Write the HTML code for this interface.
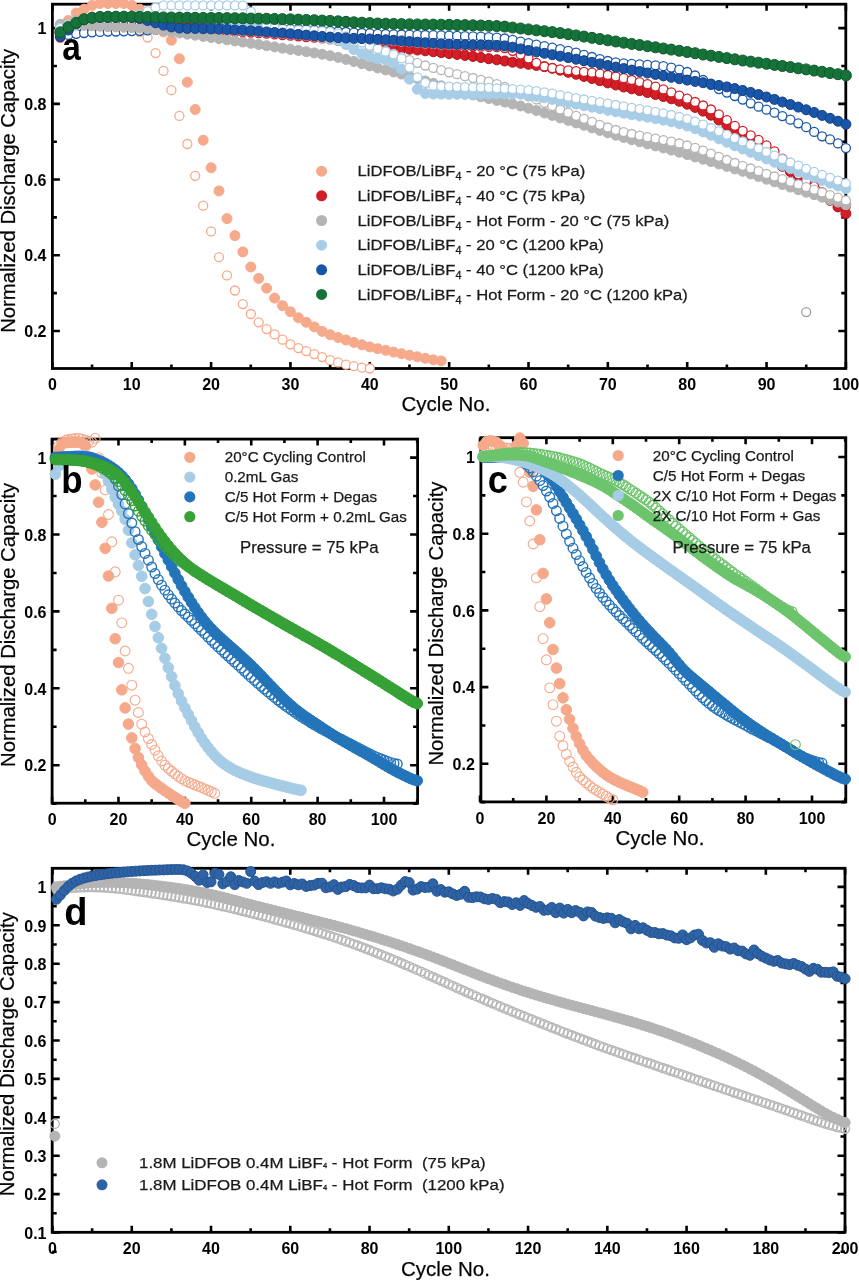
<!DOCTYPE html>
<html><head><meta charset="utf-8"><style>
html,body{margin:0;padding:0;background:#fff;}
svg{display:block;filter:blur(0.4px);}
text{font-family:"Liberation Sans", sans-serif;fill:#000;}
.ax,.ay,.lg,.lg2,.lg3,.lg4{stroke:#1a1a1a;stroke-width:0.25px;}
.tb{font-weight:bold;font-size:16px;}
.ax{font-size:20.5px;}
.ay{font-size:20.3px;}
.pl{font-weight:bold;font-size:38px;}
.lg{font-size:15.4px;fill:#1a1a1a;white-space:pre;}
.lg2{font-size:15.2px;fill:#1a1a1a;}
.lg3{font-size:16.8px;fill:#1a1a1a;}
.lg4{font-size:15.5px;fill:#1a1a1a;white-space:pre;}
.sub{font-size:10px;}
.sub4{font-size:7px;}
</style></head>
<body><svg width="859" height="1280" viewBox="0 0 859 1280">
<rect width="859" height="1280" fill="#fff"/>
<path d="M52.40 368.50V362.00M52.40 4.20V10.70M131.75 368.50V362.00M131.75 4.20V10.70M211.10 368.50V362.00M211.10 4.20V10.70M290.45 368.50V362.00M290.45 4.20V10.70M369.80 368.50V362.00M369.80 4.20V10.70M449.15 368.50V362.00M449.15 4.20V10.70M528.50 368.50V362.00M528.50 4.20V10.70M607.85 368.50V362.00M607.85 4.20V10.70M687.20 368.50V362.00M687.20 4.20V10.70M766.55 368.50V362.00M766.55 4.20V10.70M845.90 368.50V362.00M845.90 4.20V10.70M92.07 368.50V364.50M92.07 4.20V8.20M171.42 368.50V364.50M171.42 4.20V8.20M250.78 368.50V364.50M250.78 4.20V8.20M330.12 368.50V364.50M330.12 4.20V8.20M409.47 368.50V364.50M409.47 4.20V8.20M488.82 368.50V364.50M488.82 4.20V8.20M568.17 368.50V364.50M568.17 4.20V8.20M647.52 368.50V364.50M647.52 4.20V8.20M726.88 368.50V364.50M726.88 4.20V8.20M806.22 368.50V364.50M806.22 4.20V8.20M52.40 331.02H59.90M845.80 331.02H838.30M52.40 255.29H59.90M845.80 255.29H838.30M52.40 179.56H59.90M845.80 179.56H838.30M52.40 103.83H59.90M845.80 103.83H838.30M52.40 28.10H59.90M845.80 28.10H838.30M52.40 293.15H56.90M845.80 293.15H841.30M52.40 217.42H56.90M845.80 217.42H841.30M52.40 141.70H56.90M845.80 141.70H841.30M52.40 65.96H56.90M845.80 65.96H841.30" stroke="#000" stroke-width="2.6" fill="none"/>
<rect x="52.40" y="4.20" width="793.40" height="364.30" fill="none" stroke="#000" stroke-width="2.8"/>
<text x="52.40" y="390.30" text-anchor="middle" class="tb">0</text>
<text x="131.75" y="390.30" text-anchor="middle" class="tb">10</text>
<text x="211.10" y="390.30" text-anchor="middle" class="tb">20</text>
<text x="290.45" y="390.30" text-anchor="middle" class="tb">30</text>
<text x="369.80" y="390.30" text-anchor="middle" class="tb">40</text>
<text x="449.15" y="390.30" text-anchor="middle" class="tb">50</text>
<text x="528.50" y="390.30" text-anchor="middle" class="tb">60</text>
<text x="607.85" y="390.30" text-anchor="middle" class="tb">70</text>
<text x="687.20" y="390.30" text-anchor="middle" class="tb">80</text>
<text x="766.55" y="390.30" text-anchor="middle" class="tb">90</text>
<text x="845.90" y="390.30" text-anchor="middle" class="tb">100</text>
<text x="46.50" y="337.22" text-anchor="end" class="tb">0.2</text>
<text x="46.50" y="261.49" text-anchor="end" class="tb">0.4</text>
<text x="46.50" y="185.76" text-anchor="end" class="tb">0.6</text>
<text x="46.50" y="110.03" text-anchor="end" class="tb">0.8</text>
<text x="46.50" y="34.30" text-anchor="end" class="tb">1</text>
<g fill="#F7A98B" stroke="#F7A98B" stroke-width="1.0"><circle cx="60.3" cy="28.1" r="5.0"/><circle cx="68.3" cy="20.5" r="5.0"/><circle cx="76.2" cy="13.0" r="5.0"/><circle cx="84.1" cy="9.2" r="5.0"/><circle cx="92.1" cy="5.4" r="5.0"/><circle cx="100.0" cy="3.5" r="5.0"/><circle cx="107.9" cy="3.5" r="5.0"/><circle cx="115.9" cy="3.5" r="5.0"/><circle cx="123.8" cy="3.5" r="5.0"/><circle cx="131.8" cy="5.4" r="5.0"/><circle cx="139.7" cy="9.2" r="5.0"/><circle cx="147.6" cy="16.7" r="5.0"/><circle cx="155.6" cy="24.3" r="5.0"/><circle cx="163.5" cy="31.9" r="5.0"/><circle cx="171.4" cy="40.2" r="5.0"/><circle cx="179.4" cy="58.8" r="5.0"/><circle cx="187.3" cy="82.2" r="5.0"/><circle cx="195.2" cy="109.5" r="5.0"/><circle cx="203.2" cy="140.2" r="5.0"/><circle cx="211.1" cy="167.8" r="5.0"/><circle cx="219.0" cy="190.9" r="5.0"/><circle cx="227.0" cy="218.6" r="5.0"/><circle cx="234.9" cy="235.6" r="5.0"/><circle cx="242.8" cy="251.9" r="5.0"/><circle cx="250.8" cy="267.0" r="5.0"/><circle cx="258.7" cy="278.4" r="5.0"/><circle cx="266.6" cy="288.2" r="5.0"/><circle cx="274.6" cy="298.1" r="5.0"/><circle cx="282.5" cy="305.7" r="5.0"/><circle cx="290.4" cy="311.7" r="5.0"/><circle cx="298.4" cy="317.8" r="5.0"/><circle cx="306.3" cy="322.3" r="5.0"/><circle cx="314.3" cy="326.9" r="5.0"/><circle cx="322.2" cy="331.4" r="5.0"/><circle cx="330.1" cy="334.7" r="5.0"/><circle cx="338.1" cy="337.5" r="5.0"/><circle cx="346.0" cy="340.0" r="5.0"/><circle cx="353.9" cy="342.4" r="5.0"/><circle cx="361.9" cy="344.8" r="5.0"/><circle cx="369.8" cy="346.9" r="5.0"/><circle cx="377.7" cy="348.7" r="5.0"/><circle cx="385.7" cy="350.3" r="5.0"/><circle cx="393.6" cy="352.1" r="5.0"/><circle cx="401.5" cy="353.7" r="5.0"/><circle cx="409.5" cy="355.3" r="5.0"/><circle cx="417.4" cy="356.8" r="5.0"/><circle cx="425.3" cy="358.3" r="5.0"/><circle cx="433.3" cy="359.8" r="5.0"/><circle cx="441.2" cy="360.9" r="5.0"/></g>
<g fill="#fff" stroke="#F7A98B" stroke-width="1.3"><circle cx="60.3" cy="28.1" r="4.5"/><circle cx="68.3" cy="23.8" r="4.5"/><circle cx="76.2" cy="20.5" r="4.5"/><circle cx="84.1" cy="18.0" r="4.5"/><circle cx="92.1" cy="16.7" r="4.5"/><circle cx="100.0" cy="16.7" r="4.5"/><circle cx="107.9" cy="16.7" r="4.5"/><circle cx="115.9" cy="16.7" r="4.5"/><circle cx="123.8" cy="16.7" r="4.5"/><circle cx="131.8" cy="22.4" r="4.5"/><circle cx="139.7" cy="31.9" r="4.5"/><circle cx="147.6" cy="37.6" r="4.5"/><circle cx="155.6" cy="53.1" r="4.5"/><circle cx="163.5" cy="70.9" r="4.5"/><circle cx="171.4" cy="90.2" r="4.5"/><circle cx="179.4" cy="115.9" r="4.5"/><circle cx="187.3" cy="144.0" r="4.5"/><circle cx="195.2" cy="175.8" r="4.5"/><circle cx="203.2" cy="205.7" r="4.5"/><circle cx="211.1" cy="231.4" r="4.5"/><circle cx="219.0" cy="257.2" r="4.5"/><circle cx="227.0" cy="275.4" r="4.5"/><circle cx="234.9" cy="290.5" r="4.5"/><circle cx="242.8" cy="304.1" r="4.5"/><circle cx="250.8" cy="314.0" r="4.5"/><circle cx="258.7" cy="322.3" r="4.5"/><circle cx="266.6" cy="329.1" r="4.5"/><circle cx="274.6" cy="334.4" r="4.5"/><circle cx="282.5" cy="339.7" r="4.5"/><circle cx="290.4" cy="344.3" r="4.5"/><circle cx="298.4" cy="348.1" r="4.5"/><circle cx="306.3" cy="351.1" r="4.5"/><circle cx="314.3" cy="354.1" r="4.5"/><circle cx="322.2" cy="357.1" r="4.5"/><circle cx="330.1" cy="360.2" r="4.5"/><circle cx="338.1" cy="362.4" r="4.5"/><circle cx="346.0" cy="364.7" r="4.5"/><circle cx="353.9" cy="366.2" r="4.5"/><circle cx="361.9" cy="367.7" r="4.5"/><circle cx="369.8" cy="368.5" r="4.5"/></g>
<g fill="#D21E26" stroke="#B01018" stroke-width="1.0"><circle cx="60.3" cy="31.9" r="5.0"/><circle cx="68.3" cy="30.1" r="5.0"/><circle cx="76.2" cy="28.4" r="5.0"/><circle cx="84.1" cy="27.0" r="5.0"/><circle cx="92.1" cy="26.2" r="5.0"/><circle cx="100.0" cy="25.7" r="5.0"/><circle cx="107.9" cy="25.3" r="5.0"/><circle cx="115.9" cy="24.9" r="5.0"/><circle cx="123.8" cy="24.6" r="5.0"/><circle cx="131.8" cy="24.3" r="5.0"/><circle cx="139.7" cy="24.0" r="5.0"/><circle cx="147.6" cy="23.8" r="5.0"/><circle cx="155.6" cy="23.7" r="5.0"/><circle cx="163.5" cy="23.6" r="5.0"/><circle cx="171.4" cy="23.6" r="5.0"/><circle cx="179.4" cy="23.6" r="5.0"/><circle cx="187.3" cy="23.6" r="5.0"/><circle cx="195.2" cy="23.7" r="5.0"/><circle cx="203.2" cy="23.8" r="5.0"/><circle cx="211.1" cy="24.0" r="5.0"/><circle cx="219.0" cy="24.1" r="5.0"/><circle cx="227.0" cy="24.3" r="5.0"/><circle cx="234.9" cy="24.6" r="5.0"/><circle cx="242.8" cy="24.8" r="5.0"/><circle cx="250.8" cy="25.1" r="5.0"/><circle cx="258.7" cy="25.6" r="5.0"/><circle cx="266.6" cy="26.4" r="5.0"/><circle cx="274.6" cy="27.6" r="5.0"/><circle cx="282.5" cy="29.0" r="5.0"/><circle cx="290.4" cy="30.6" r="5.0"/><circle cx="298.4" cy="32.3" r="5.0"/><circle cx="306.3" cy="34.0" r="5.0"/><circle cx="314.3" cy="35.7" r="5.0"/><circle cx="322.2" cy="37.3" r="5.0"/><circle cx="330.1" cy="38.7" r="5.0"/><circle cx="338.1" cy="40.1" r="5.0"/><circle cx="346.0" cy="41.4" r="5.0"/><circle cx="353.9" cy="42.8" r="5.0"/><circle cx="361.9" cy="44.0" r="5.0"/><circle cx="369.8" cy="45.1" r="5.0"/><circle cx="377.7" cy="46.1" r="5.0"/><circle cx="385.7" cy="46.9" r="5.0"/><circle cx="393.6" cy="47.7" r="5.0"/><circle cx="401.5" cy="48.5" r="5.0"/><circle cx="409.5" cy="49.2" r="5.0"/><circle cx="417.4" cy="50.0" r="5.0"/><circle cx="425.3" cy="50.8" r="5.0"/><circle cx="433.3" cy="51.7" r="5.0"/><circle cx="441.2" cy="52.6" r="5.0"/><circle cx="449.1" cy="53.5" r="5.0"/><circle cx="457.1" cy="54.4" r="5.0"/><circle cx="465.0" cy="55.4" r="5.0"/><circle cx="473.0" cy="56.4" r="5.0"/><circle cx="480.9" cy="57.5" r="5.0"/><circle cx="488.8" cy="58.7" r="5.0"/><circle cx="496.8" cy="59.8" r="5.0"/><circle cx="504.7" cy="61.0" r="5.0"/><circle cx="512.6" cy="62.2" r="5.0"/><circle cx="520.6" cy="63.3" r="5.0"/><circle cx="528.5" cy="64.3" r="5.0"/><circle cx="536.4" cy="65.4" r="5.0"/><circle cx="544.4" cy="66.7" r="5.0"/><circle cx="552.3" cy="68.3" r="5.0"/><circle cx="560.2" cy="70.2" r="5.0"/><circle cx="568.2" cy="72.3" r="5.0"/><circle cx="576.1" cy="74.3" r="5.0"/><circle cx="584.0" cy="76.4" r="5.0"/><circle cx="592.0" cy="78.5" r="5.0"/><circle cx="599.9" cy="80.7" r="5.0"/><circle cx="607.8" cy="82.9" r="5.0"/><circle cx="615.8" cy="85.0" r="5.0"/><circle cx="623.7" cy="87.0" r="5.0"/><circle cx="631.7" cy="88.8" r="5.0"/><circle cx="639.6" cy="90.6" r="5.0"/><circle cx="647.5" cy="92.5" r="5.0"/><circle cx="655.5" cy="94.5" r="5.0"/><circle cx="663.4" cy="96.5" r="5.0"/><circle cx="671.3" cy="98.8" r="5.0"/><circle cx="679.3" cy="101.3" r="5.0"/><circle cx="687.2" cy="104.2" r="5.0"/><circle cx="695.1" cy="107.4" r="5.0"/><circle cx="703.1" cy="111.1" r="5.0"/><circle cx="711.0" cy="115.2" r="5.0"/><circle cx="718.9" cy="120.0" r="5.0"/><circle cx="726.9" cy="125.5" r="5.0"/><circle cx="734.8" cy="131.3" r="5.0"/><circle cx="742.7" cy="136.9" r="5.0"/><circle cx="750.7" cy="142.4" r="5.0"/><circle cx="758.6" cy="148.1" r="5.0"/><circle cx="766.5" cy="154.1" r="5.0"/><circle cx="774.5" cy="160.4" r="5.0"/><circle cx="782.4" cy="166.3" r="5.0"/><circle cx="790.4" cy="171.6" r="5.0"/><circle cx="798.3" cy="176.8" r="5.0"/><circle cx="806.2" cy="182.4" r="5.0"/><circle cx="814.2" cy="188.1" r="5.0"/><circle cx="822.1" cy="194.1" r="5.0"/><circle cx="830.0" cy="200.3" r="5.0"/><circle cx="838.0" cy="206.9" r="5.0"/><circle cx="845.9" cy="213.6" r="5.0"/></g>
<g fill="#fff" stroke="#D21E26" stroke-width="1.3"><circle cx="60.3" cy="37.6" r="4.5"/><circle cx="68.3" cy="32.5" r="4.5"/><circle cx="76.2" cy="27.9" r="4.5"/><circle cx="84.1" cy="24.5" r="4.5"/><circle cx="92.1" cy="23.2" r="4.5"/><circle cx="100.0" cy="23.2" r="4.5"/><circle cx="107.9" cy="23.2" r="4.5"/><circle cx="115.9" cy="23.2" r="4.5"/><circle cx="123.8" cy="23.2" r="4.5"/><circle cx="131.8" cy="23.2" r="4.5"/><circle cx="139.7" cy="23.2" r="4.5"/><circle cx="147.6" cy="23.8" r="4.5"/><circle cx="155.6" cy="25.3" r="4.5"/><circle cx="163.5" cy="26.9" r="4.5"/><circle cx="171.4" cy="28.1" r="4.5"/><circle cx="179.4" cy="28.8" r="4.5"/><circle cx="187.3" cy="29.4" r="4.5"/><circle cx="195.2" cy="29.9" r="4.5"/><circle cx="203.2" cy="30.3" r="4.5"/><circle cx="211.1" cy="30.8" r="4.5"/><circle cx="219.0" cy="31.2" r="4.5"/><circle cx="227.0" cy="31.5" r="4.5"/><circle cx="234.9" cy="31.9" r="4.5"/><circle cx="242.8" cy="32.2" r="4.5"/><circle cx="250.8" cy="32.6" r="4.5"/><circle cx="258.7" cy="33.2" r="4.5"/><circle cx="266.6" cy="33.7" r="4.5"/><circle cx="274.6" cy="34.4" r="4.5"/><circle cx="282.5" cy="35.0" r="4.5"/><circle cx="290.4" cy="35.7" r="4.5"/><circle cx="298.4" cy="36.3" r="4.5"/><circle cx="306.3" cy="37.0" r="4.5"/><circle cx="314.3" cy="37.7" r="4.5"/><circle cx="322.2" cy="38.3" r="4.5"/><circle cx="330.1" cy="38.9" r="4.5"/><circle cx="338.1" cy="39.5" r="4.5"/><circle cx="346.0" cy="39.9" r="4.5"/><circle cx="353.9" cy="40.2" r="4.5"/><circle cx="361.9" cy="40.5" r="4.5"/><circle cx="369.8" cy="40.9" r="4.5"/><circle cx="377.7" cy="41.2" r="4.5"/><circle cx="385.7" cy="41.7" r="4.5"/><circle cx="393.6" cy="42.2" r="4.5"/><circle cx="401.5" cy="42.8" r="4.5"/><circle cx="409.5" cy="43.5" r="4.5"/><circle cx="417.4" cy="44.1" r="4.5"/><circle cx="425.3" cy="44.7" r="4.5"/><circle cx="433.3" cy="45.2" r="4.5"/><circle cx="441.2" cy="45.7" r="4.5"/><circle cx="449.1" cy="46.0" r="4.5"/><circle cx="457.1" cy="46.2" r="4.5"/><circle cx="465.0" cy="46.4" r="4.5"/><circle cx="473.0" cy="46.5" r="4.5"/><circle cx="480.9" cy="46.7" r="4.5"/><circle cx="488.8" cy="46.9" r="4.5"/><circle cx="496.8" cy="47.2" r="4.5"/><circle cx="504.7" cy="48.1" r="4.5"/><circle cx="512.6" cy="50.8" r="4.5"/><circle cx="520.6" cy="54.6" r="4.5"/><circle cx="528.5" cy="58.4" r="4.5"/><circle cx="536.4" cy="62.8" r="4.5"/><circle cx="544.4" cy="66.5" r="4.5"/><circle cx="552.3" cy="68.2" r="4.5"/><circle cx="560.2" cy="69.4" r="4.5"/><circle cx="568.2" cy="70.3" r="4.5"/><circle cx="576.1" cy="71.1" r="4.5"/><circle cx="584.0" cy="71.9" r="4.5"/><circle cx="592.0" cy="72.7" r="4.5"/><circle cx="599.9" cy="73.7" r="4.5"/><circle cx="607.8" cy="75.0" r="4.5"/><circle cx="615.8" cy="76.5" r="4.5"/><circle cx="623.7" cy="78.2" r="4.5"/><circle cx="631.7" cy="80.0" r="4.5"/><circle cx="639.6" cy="82.1" r="4.5"/><circle cx="647.5" cy="84.2" r="4.5"/><circle cx="655.5" cy="86.6" r="4.5"/><circle cx="663.4" cy="89.4" r="4.5"/><circle cx="671.3" cy="92.4" r="4.5"/><circle cx="679.3" cy="95.6" r="4.5"/><circle cx="687.2" cy="98.7" r="4.5"/><circle cx="695.1" cy="102.0" r="4.5"/><circle cx="703.1" cy="105.5" r="4.5"/><circle cx="711.0" cy="109.5" r="4.5"/><circle cx="718.9" cy="114.4" r="4.5"/><circle cx="726.9" cy="120.1" r="4.5"/><circle cx="734.8" cy="125.8" r="4.5"/><circle cx="742.7" cy="130.8" r="4.5"/><circle cx="750.7" cy="135.3" r="4.5"/><circle cx="758.6" cy="139.9" r="4.5"/><circle cx="766.5" cy="145.3" r="4.5"/><circle cx="774.5" cy="151.4" r="4.5"/><circle cx="782.4" cy="158.7" r="4.5"/><circle cx="790.4" cy="166.7" r="4.5"/><circle cx="798.3" cy="174.3" r="4.5"/><circle cx="806.2" cy="180.7" r="4.5"/><circle cx="814.2" cy="186.6" r="4.5"/><circle cx="822.1" cy="192.2" r="4.5"/><circle cx="830.0" cy="197.3" r="4.5"/><circle cx="838.0" cy="202.0" r="4.5"/><circle cx="845.9" cy="206.1" r="4.5"/></g>
<g fill="#fff" stroke="#1A56A8" stroke-width="1.3"><circle cx="60.3" cy="36.4" r="4.5"/><circle cx="68.3" cy="34.9" r="4.5"/><circle cx="76.2" cy="33.8" r="4.5"/><circle cx="84.1" cy="33.0" r="4.5"/><circle cx="92.1" cy="32.3" r="4.5"/><circle cx="100.0" cy="31.9" r="4.5"/><circle cx="107.9" cy="31.6" r="4.5"/><circle cx="115.9" cy="31.5" r="4.5"/><circle cx="123.8" cy="31.3" r="4.5"/><circle cx="131.8" cy="31.1" r="4.5"/><circle cx="139.7" cy="30.8" r="4.5"/><circle cx="147.6" cy="30.3" r="4.5"/><circle cx="155.6" cy="29.8" r="4.5"/><circle cx="163.5" cy="29.3" r="4.5"/><circle cx="171.4" cy="28.9" r="4.5"/><circle cx="179.4" cy="28.4" r="4.5"/><circle cx="187.3" cy="27.9" r="4.5"/><circle cx="195.2" cy="27.4" r="4.5"/><circle cx="203.2" cy="27.1" r="4.5"/><circle cx="211.1" cy="27.0" r="4.5"/><circle cx="219.0" cy="27.1" r="4.5"/><circle cx="227.0" cy="27.3" r="4.5"/><circle cx="234.9" cy="27.6" r="4.5"/><circle cx="242.8" cy="27.9" r="4.5"/><circle cx="250.8" cy="28.1" r="4.5"/><circle cx="258.7" cy="28.3" r="4.5"/><circle cx="266.6" cy="28.4" r="4.5"/><circle cx="274.6" cy="28.5" r="4.5"/><circle cx="282.5" cy="28.7" r="4.5"/><circle cx="290.4" cy="28.9" r="4.5"/><circle cx="298.4" cy="29.1" r="4.5"/><circle cx="306.3" cy="29.5" r="4.5"/><circle cx="314.3" cy="29.9" r="4.5"/><circle cx="322.2" cy="30.4" r="4.5"/><circle cx="330.1" cy="31.0" r="4.5"/><circle cx="338.1" cy="31.5" r="4.5"/><circle cx="346.0" cy="32.0" r="4.5"/><circle cx="353.9" cy="32.6" r="4.5"/><circle cx="361.9" cy="33.0" r="4.5"/><circle cx="369.8" cy="33.4" r="4.5"/><circle cx="377.7" cy="33.8" r="4.5"/><circle cx="385.7" cy="34.0" r="4.5"/><circle cx="393.6" cy="34.3" r="4.5"/><circle cx="401.5" cy="34.5" r="4.5"/><circle cx="409.5" cy="34.7" r="4.5"/><circle cx="417.4" cy="34.8" r="4.5"/><circle cx="425.3" cy="35.0" r="4.5"/><circle cx="433.3" cy="35.2" r="4.5"/><circle cx="441.2" cy="35.4" r="4.5"/><circle cx="449.1" cy="35.7" r="4.5"/><circle cx="457.1" cy="35.9" r="4.5"/><circle cx="465.0" cy="36.2" r="4.5"/><circle cx="473.0" cy="36.4" r="4.5"/><circle cx="480.9" cy="36.7" r="4.5"/><circle cx="488.8" cy="37.1" r="4.5"/><circle cx="496.8" cy="37.6" r="4.5"/><circle cx="504.7" cy="38.5" r="4.5"/><circle cx="512.6" cy="39.9" r="4.5"/><circle cx="520.6" cy="41.6" r="4.5"/><circle cx="528.5" cy="43.2" r="4.5"/><circle cx="536.4" cy="44.7" r="4.5"/><circle cx="544.4" cy="46.2" r="4.5"/><circle cx="552.3" cy="47.7" r="4.5"/><circle cx="560.2" cy="49.2" r="4.5"/><circle cx="568.2" cy="50.8" r="4.5"/><circle cx="576.1" cy="52.7" r="4.5"/><circle cx="584.0" cy="54.8" r="4.5"/><circle cx="592.0" cy="57.0" r="4.5"/><circle cx="599.9" cy="59.1" r="4.5"/><circle cx="607.8" cy="61.0" r="4.5"/><circle cx="615.8" cy="62.4" r="4.5"/><circle cx="623.7" cy="63.3" r="4.5"/><circle cx="631.7" cy="63.9" r="4.5"/><circle cx="639.6" cy="64.3" r="4.5"/><circle cx="647.5" cy="64.8" r="4.5"/><circle cx="655.5" cy="65.3" r="4.5"/><circle cx="663.4" cy="66.2" r="4.5"/><circle cx="671.3" cy="67.6" r="4.5"/><circle cx="679.3" cy="69.6" r="4.5"/><circle cx="687.2" cy="72.0" r="4.5"/><circle cx="695.1" cy="75.5" r="4.5"/><circle cx="703.1" cy="80.0" r="4.5"/><circle cx="711.0" cy="84.8" r="4.5"/><circle cx="718.9" cy="89.1" r="4.5"/><circle cx="726.9" cy="92.6" r="4.5"/><circle cx="734.8" cy="96.0" r="4.5"/><circle cx="742.7" cy="99.6" r="4.5"/><circle cx="750.7" cy="103.3" r="4.5"/><circle cx="758.6" cy="106.7" r="4.5"/><circle cx="766.5" cy="109.7" r="4.5"/><circle cx="774.5" cy="112.7" r="4.5"/><circle cx="782.4" cy="116.1" r="4.5"/><circle cx="790.4" cy="119.7" r="4.5"/><circle cx="798.3" cy="123.3" r="4.5"/><circle cx="806.2" cy="127.2" r="4.5"/><circle cx="814.2" cy="131.9" r="4.5"/><circle cx="822.1" cy="136.3" r="4.5"/><circle cx="830.0" cy="139.4" r="4.5"/><circle cx="838.0" cy="143.4" r="4.5"/><circle cx="845.9" cy="148.1" r="4.5"/></g>
<g fill="#B4B4B4" stroke="#B4B4B4" stroke-width="1.0"><circle cx="60.3" cy="24.3" r="5.0"/><circle cx="68.3" cy="24.7" r="5.0"/><circle cx="76.2" cy="25.1" r="5.0"/><circle cx="84.1" cy="25.4" r="5.0"/><circle cx="92.1" cy="25.8" r="5.0"/><circle cx="100.0" cy="26.2" r="5.0"/><circle cx="107.9" cy="26.6" r="5.0"/><circle cx="115.9" cy="26.9" r="5.0"/><circle cx="123.8" cy="27.2" r="5.0"/><circle cx="131.8" cy="27.6" r="5.0"/><circle cx="139.7" cy="28.1" r="5.0"/><circle cx="147.6" cy="28.8" r="5.0"/><circle cx="155.6" cy="29.7" r="5.0"/><circle cx="163.5" cy="30.7" r="5.0"/><circle cx="171.4" cy="31.9" r="5.0"/><circle cx="179.4" cy="33.0" r="5.0"/><circle cx="187.3" cy="34.2" r="5.0"/><circle cx="195.2" cy="35.2" r="5.0"/><circle cx="203.2" cy="36.4" r="5.0"/><circle cx="211.1" cy="37.5" r="5.0"/><circle cx="219.0" cy="38.6" r="5.0"/><circle cx="227.0" cy="39.8" r="5.0"/><circle cx="234.9" cy="41.0" r="5.0"/><circle cx="242.8" cy="42.1" r="5.0"/><circle cx="250.8" cy="43.3" r="5.0"/><circle cx="258.7" cy="44.5" r="5.0"/><circle cx="266.6" cy="45.7" r="5.0"/><circle cx="274.6" cy="46.9" r="5.0"/><circle cx="282.5" cy="48.2" r="5.0"/><circle cx="290.4" cy="49.4" r="5.0"/><circle cx="298.4" cy="50.5" r="5.0"/><circle cx="306.3" cy="51.7" r="5.0"/><circle cx="314.3" cy="52.9" r="5.0"/><circle cx="322.2" cy="54.3" r="5.0"/><circle cx="330.1" cy="55.7" r="5.0"/><circle cx="338.1" cy="57.4" r="5.0"/><circle cx="346.0" cy="59.4" r="5.0"/><circle cx="353.9" cy="61.5" r="5.0"/><circle cx="361.9" cy="63.7" r="5.0"/><circle cx="369.8" cy="65.9" r="5.0"/><circle cx="377.7" cy="68.0" r="5.0"/><circle cx="385.7" cy="70.0" r="5.0"/><circle cx="393.6" cy="72.0" r="5.0"/><circle cx="401.5" cy="74.1" r="5.0"/><circle cx="409.5" cy="76.3" r="5.0"/><circle cx="417.4" cy="78.6" r="5.0"/><circle cx="425.3" cy="81.0" r="5.0"/><circle cx="433.3" cy="83.4" r="5.0"/><circle cx="441.2" cy="85.8" r="5.0"/><circle cx="449.1" cy="88.3" r="5.0"/><circle cx="457.1" cy="90.7" r="5.0"/><circle cx="465.0" cy="92.9" r="5.0"/><circle cx="473.0" cy="94.9" r="5.0"/><circle cx="480.9" cy="96.7" r="5.0"/><circle cx="488.8" cy="98.5" r="5.0"/><circle cx="496.8" cy="100.4" r="5.0"/><circle cx="504.7" cy="102.1" r="5.0"/><circle cx="512.6" cy="104.0" r="5.0"/><circle cx="520.6" cy="106.0" r="5.0"/><circle cx="528.5" cy="108.2" r="5.0"/><circle cx="536.4" cy="110.5" r="5.0"/><circle cx="544.4" cy="113.0" r="5.0"/><circle cx="552.3" cy="115.4" r="5.0"/><circle cx="560.2" cy="117.9" r="5.0"/><circle cx="568.2" cy="120.4" r="5.0"/><circle cx="576.1" cy="122.9" r="5.0"/><circle cx="584.0" cy="125.3" r="5.0"/><circle cx="592.0" cy="127.9" r="5.0"/><circle cx="599.9" cy="130.4" r="5.0"/><circle cx="607.8" cy="132.8" r="5.0"/><circle cx="615.8" cy="135.2" r="5.0"/><circle cx="623.7" cy="137.5" r="5.0"/><circle cx="631.7" cy="139.7" r="5.0"/><circle cx="639.6" cy="141.8" r="5.0"/><circle cx="647.5" cy="143.9" r="5.0"/><circle cx="655.5" cy="145.9" r="5.0"/><circle cx="663.4" cy="148.0" r="5.0"/><circle cx="671.3" cy="150.1" r="5.0"/><circle cx="679.3" cy="152.3" r="5.0"/><circle cx="687.2" cy="154.6" r="5.0"/><circle cx="695.1" cy="156.9" r="5.0"/><circle cx="703.1" cy="159.2" r="5.0"/><circle cx="711.0" cy="161.6" r="5.0"/><circle cx="718.9" cy="164.0" r="5.0"/><circle cx="726.9" cy="166.4" r="5.0"/><circle cx="734.8" cy="168.9" r="5.0"/><circle cx="742.7" cy="171.3" r="5.0"/><circle cx="750.7" cy="173.9" r="5.0"/><circle cx="758.6" cy="176.5" r="5.0"/><circle cx="766.5" cy="179.2" r="5.0"/><circle cx="774.5" cy="181.8" r="5.0"/><circle cx="782.4" cy="184.5" r="5.0"/><circle cx="790.4" cy="187.1" r="5.0"/><circle cx="798.3" cy="189.7" r="5.0"/><circle cx="806.2" cy="192.2" r="5.0"/><circle cx="814.2" cy="194.7" r="5.0"/><circle cx="822.1" cy="197.2" r="5.0"/><circle cx="830.0" cy="199.7" r="5.0"/><circle cx="838.0" cy="202.1" r="5.0"/><circle cx="845.9" cy="204.6" r="5.0"/></g>
<g fill="#fff" stroke="#B4B4B4" stroke-width="1.3"><circle cx="60.3" cy="28.1" r="4.5"/><circle cx="68.3" cy="23.6" r="4.5"/><circle cx="76.2" cy="20.5" r="4.5"/><circle cx="84.1" cy="18.5" r="4.5"/><circle cx="92.1" cy="17.5" r="4.5"/><circle cx="100.0" cy="17.5" r="4.5"/><circle cx="107.9" cy="17.5" r="4.5"/><circle cx="115.9" cy="17.5" r="4.5"/><circle cx="123.8" cy="17.5" r="4.5"/><circle cx="131.8" cy="17.5" r="4.5"/><circle cx="139.7" cy="17.5" r="4.5"/><circle cx="147.6" cy="17.5" r="4.5"/><circle cx="155.6" cy="17.5" r="4.5"/><circle cx="163.5" cy="17.5" r="4.5"/><circle cx="171.4" cy="17.5" r="4.5"/><circle cx="179.4" cy="17.5" r="4.5"/><circle cx="187.3" cy="17.5" r="4.5"/><circle cx="195.2" cy="17.5" r="4.5"/><circle cx="203.2" cy="17.5" r="4.5"/><circle cx="211.1" cy="17.5" r="4.5"/><circle cx="219.0" cy="17.8" r="4.5"/><circle cx="227.0" cy="18.6" r="4.5"/><circle cx="234.9" cy="19.8" r="4.5"/><circle cx="242.8" cy="21.1" r="4.5"/><circle cx="250.8" cy="22.4" r="4.5"/><circle cx="258.7" cy="23.9" r="4.5"/><circle cx="266.6" cy="25.6" r="4.5"/><circle cx="274.6" cy="27.4" r="4.5"/><circle cx="282.5" cy="29.3" r="4.5"/><circle cx="290.4" cy="31.1" r="4.5"/><circle cx="298.4" cy="32.8" r="4.5"/><circle cx="306.3" cy="34.5" r="4.5"/><circle cx="314.3" cy="36.2" r="4.5"/><circle cx="322.2" cy="37.8" r="4.5"/><circle cx="330.1" cy="39.5" r="4.5"/><circle cx="338.1" cy="41.0" r="4.5"/><circle cx="346.0" cy="42.5" r="4.5"/><circle cx="353.9" cy="43.9" r="4.5"/><circle cx="361.9" cy="45.4" r="4.5"/><circle cx="369.8" cy="47.0" r="4.5"/><circle cx="377.7" cy="48.8" r="4.5"/><circle cx="385.7" cy="50.9" r="4.5"/><circle cx="393.6" cy="53.8" r="4.5"/><circle cx="401.5" cy="57.1" r="4.5"/><circle cx="409.5" cy="60.1" r="4.5"/><circle cx="417.4" cy="62.8" r="4.5"/><circle cx="425.3" cy="65.5" r="4.5"/><circle cx="433.3" cy="67.9" r="4.5"/><circle cx="441.2" cy="70.2" r="4.5"/><circle cx="449.1" cy="72.3" r="4.5"/><circle cx="457.1" cy="74.2" r="4.5"/><circle cx="465.0" cy="76.2" r="4.5"/><circle cx="473.0" cy="78.0" r="4.5"/><circle cx="480.9" cy="79.8" r="4.5"/><circle cx="488.8" cy="81.7" r="4.5"/><circle cx="496.8" cy="84.1" r="4.5"/><circle cx="504.7" cy="86.9" r="4.5"/><circle cx="512.6" cy="89.9" r="4.5"/><circle cx="520.6" cy="93.1" r="4.5"/><circle cx="528.5" cy="96.3" r="4.5"/><circle cx="536.4" cy="99.4" r="4.5"/><circle cx="544.4" cy="102.8" r="4.5"/><circle cx="552.3" cy="106.1" r="4.5"/><circle cx="560.2" cy="109.5" r="4.5"/><circle cx="568.2" cy="112.7" r="4.5"/><circle cx="576.1" cy="115.8" r="4.5"/><circle cx="584.0" cy="118.8" r="4.5"/><circle cx="592.0" cy="121.8" r="4.5"/><circle cx="599.9" cy="124.8" r="4.5"/><circle cx="607.8" cy="127.5" r="4.5"/><circle cx="615.8" cy="130.0" r="4.5"/><circle cx="623.7" cy="132.1" r="4.5"/><circle cx="631.7" cy="134.0" r="4.5"/><circle cx="639.6" cy="135.6" r="4.5"/><circle cx="647.5" cy="137.2" r="4.5"/><circle cx="655.5" cy="138.6" r="4.5"/><circle cx="663.4" cy="140.1" r="4.5"/><circle cx="671.3" cy="141.7" r="4.5"/><circle cx="679.3" cy="143.5" r="4.5"/><circle cx="687.2" cy="145.5" r="4.5"/><circle cx="695.1" cy="147.9" r="4.5"/><circle cx="703.1" cy="150.6" r="4.5"/><circle cx="711.0" cy="153.7" r="4.5"/><circle cx="718.9" cy="156.8" r="4.5"/><circle cx="726.9" cy="160.0" r="4.5"/><circle cx="734.8" cy="163.0" r="4.5"/><circle cx="742.7" cy="165.8" r="4.5"/><circle cx="750.7" cy="168.5" r="4.5"/><circle cx="758.6" cy="171.2" r="4.5"/><circle cx="766.5" cy="173.9" r="4.5"/><circle cx="774.5" cy="176.5" r="4.5"/><circle cx="782.4" cy="179.1" r="4.5"/><circle cx="790.4" cy="181.8" r="4.5"/><circle cx="798.3" cy="184.4" r="4.5"/><circle cx="806.2" cy="187.1" r="4.5"/><circle cx="814.2" cy="189.7" r="4.5"/><circle cx="822.1" cy="192.4" r="4.5"/><circle cx="830.0" cy="195.1" r="4.5"/><circle cx="838.0" cy="197.7" r="4.5"/><circle cx="845.9" cy="200.4" r="4.5"/></g>
<g fill="#fff" stroke="#A0A0A0" stroke-width="1.3"><circle cx="806.2" cy="312.1" r="4.5"/></g>
<g fill="#A8CDE6" stroke="#A8CDE6" stroke-width="1.0"><circle cx="60.3" cy="28.1" r="5.0"/><circle cx="68.3" cy="25.0" r="5.0"/><circle cx="76.2" cy="22.4" r="5.0"/><circle cx="84.1" cy="20.1" r="5.0"/><circle cx="92.1" cy="18.6" r="5.0"/><circle cx="100.0" cy="18.2" r="5.0"/><circle cx="107.9" cy="17.9" r="5.0"/><circle cx="115.9" cy="17.7" r="5.0"/><circle cx="123.8" cy="17.5" r="5.0"/><circle cx="131.8" cy="17.5" r="5.0"/><circle cx="139.7" cy="17.5" r="5.0"/><circle cx="147.6" cy="17.5" r="5.0"/><circle cx="155.6" cy="17.6" r="5.0"/><circle cx="163.5" cy="17.7" r="5.0"/><circle cx="171.4" cy="17.8" r="5.0"/><circle cx="179.4" cy="17.9" r="5.0"/><circle cx="187.3" cy="18.1" r="5.0"/><circle cx="195.2" cy="18.2" r="5.0"/><circle cx="203.2" cy="18.4" r="5.0"/><circle cx="211.1" cy="18.6" r="5.0"/><circle cx="219.0" cy="19.2" r="5.0"/><circle cx="227.0" cy="20.2" r="5.0"/><circle cx="234.9" cy="21.5" r="5.0"/><circle cx="242.8" cy="22.9" r="5.0"/><circle cx="250.8" cy="24.3" r="5.0"/><circle cx="258.7" cy="25.7" r="5.0"/><circle cx="266.6" cy="27.3" r="5.0"/><circle cx="274.6" cy="28.9" r="5.0"/><circle cx="282.5" cy="30.5" r="5.0"/><circle cx="290.4" cy="31.9" r="5.0"/><circle cx="298.4" cy="33.1" r="5.0"/><circle cx="306.3" cy="34.0" r="5.0"/><circle cx="314.3" cy="35.0" r="5.0"/><circle cx="322.2" cy="36.1" r="5.0"/><circle cx="330.1" cy="37.6" r="5.0"/><circle cx="338.1" cy="40.0" r="5.0"/><circle cx="346.0" cy="44.6" r="5.0"/><circle cx="353.9" cy="49.7" r="5.0"/><circle cx="361.9" cy="53.8" r="5.0"/><circle cx="369.8" cy="56.7" r="5.0"/><circle cx="377.7" cy="58.7" r="5.0"/><circle cx="385.7" cy="59.9" r="5.0"/><circle cx="393.6" cy="63.2" r="5.0"/><circle cx="401.5" cy="69.3" r="5.0"/><circle cx="409.5" cy="79.2" r="5.0"/><circle cx="417.4" cy="89.3" r="5.0"/><circle cx="425.3" cy="93.5" r="5.0"/><circle cx="433.3" cy="94.0" r="5.0"/><circle cx="441.2" cy="94.1" r="5.0"/><circle cx="449.1" cy="94.3" r="5.0"/><circle cx="457.1" cy="94.3" r="5.0"/><circle cx="465.0" cy="94.4" r="5.0"/><circle cx="473.0" cy="94.3" r="5.0"/><circle cx="480.9" cy="94.3" r="5.0"/><circle cx="488.8" cy="94.2" r="5.0"/><circle cx="496.8" cy="94.1" r="5.0"/><circle cx="504.7" cy="94.0" r="5.0"/><circle cx="512.6" cy="94.0" r="5.0"/><circle cx="520.6" cy="94.2" r="5.0"/><circle cx="528.5" cy="95.3" r="5.0"/><circle cx="536.4" cy="96.4" r="5.0"/><circle cx="544.4" cy="97.8" r="5.0"/><circle cx="552.3" cy="99.4" r="5.0"/><circle cx="560.2" cy="101.0" r="5.0"/><circle cx="568.2" cy="102.6" r="5.0"/><circle cx="576.1" cy="104.1" r="5.0"/><circle cx="584.0" cy="105.7" r="5.0"/><circle cx="592.0" cy="107.2" r="5.0"/><circle cx="599.9" cy="108.7" r="5.0"/><circle cx="607.8" cy="110.3" r="5.0"/><circle cx="615.8" cy="111.8" r="5.0"/><circle cx="623.7" cy="113.3" r="5.0"/><circle cx="631.7" cy="114.7" r="5.0"/><circle cx="639.6" cy="116.0" r="5.0"/><circle cx="647.5" cy="117.3" r="5.0"/><circle cx="655.5" cy="118.7" r="5.0"/><circle cx="663.4" cy="120.2" r="5.0"/><circle cx="671.3" cy="121.8" r="5.0"/><circle cx="679.3" cy="123.7" r="5.0"/><circle cx="687.2" cy="126.0" r="5.0"/><circle cx="695.1" cy="128.7" r="5.0"/><circle cx="703.1" cy="131.9" r="5.0"/><circle cx="711.0" cy="135.2" r="5.0"/><circle cx="718.9" cy="138.8" r="5.0"/><circle cx="726.9" cy="142.3" r="5.0"/><circle cx="734.8" cy="145.7" r="5.0"/><circle cx="742.7" cy="149.0" r="5.0"/><circle cx="750.7" cy="152.3" r="5.0"/><circle cx="758.6" cy="155.6" r="5.0"/><circle cx="766.5" cy="158.9" r="5.0"/><circle cx="774.5" cy="162.2" r="5.0"/><circle cx="782.4" cy="165.5" r="5.0"/><circle cx="790.4" cy="168.6" r="5.0"/><circle cx="798.3" cy="171.7" r="5.0"/><circle cx="806.2" cy="174.7" r="5.0"/><circle cx="814.2" cy="177.6" r="5.0"/><circle cx="822.1" cy="180.4" r="5.0"/><circle cx="830.0" cy="183.2" r="5.0"/><circle cx="838.0" cy="186.0" r="5.0"/><circle cx="845.9" cy="188.6" r="5.0"/></g>
<g fill="#fff" stroke="#A8CDE6" stroke-width="1.3"><circle cx="60.3" cy="28.1" r="4.5"/><circle cx="68.3" cy="24.6" r="4.5"/><circle cx="76.2" cy="21.8" r="4.5"/><circle cx="84.1" cy="19.8" r="4.5"/><circle cx="92.1" cy="18.3" r="4.5"/><circle cx="100.0" cy="17.5" r="4.5"/><circle cx="107.9" cy="17.3" r="4.5"/><circle cx="115.9" cy="17.1" r="4.5"/><circle cx="123.8" cy="17.0" r="4.5"/><circle cx="131.8" cy="16.7" r="4.5"/><circle cx="139.7" cy="14.5" r="4.5"/><circle cx="147.6" cy="11.1" r="4.5"/><circle cx="155.6" cy="7.5" r="4.5"/><circle cx="163.5" cy="5.4" r="4.5"/><circle cx="171.4" cy="5.4" r="4.5"/><circle cx="179.4" cy="5.4" r="4.5"/><circle cx="187.3" cy="5.4" r="4.5"/><circle cx="195.2" cy="5.4" r="4.5"/><circle cx="203.2" cy="5.4" r="4.5"/><circle cx="211.1" cy="5.4" r="4.5"/><circle cx="219.0" cy="5.4" r="4.5"/><circle cx="227.0" cy="5.4" r="4.5"/><circle cx="234.9" cy="5.4" r="4.5"/><circle cx="242.8" cy="5.4" r="4.5"/><circle cx="250.8" cy="11.7" r="4.5"/><circle cx="258.7" cy="20.5" r="4.5"/><circle cx="266.6" cy="25.3" r="4.5"/><circle cx="274.6" cy="28.1" r="4.5"/><circle cx="282.5" cy="29.0" r="4.5"/><circle cx="290.4" cy="29.6" r="4.5"/><circle cx="298.4" cy="30.0" r="4.5"/><circle cx="306.3" cy="30.2" r="4.5"/><circle cx="314.3" cy="30.6" r="4.5"/><circle cx="322.2" cy="31.1" r="4.5"/><circle cx="330.1" cy="31.9" r="4.5"/><circle cx="338.1" cy="33.7" r="4.5"/><circle cx="346.0" cy="36.5" r="4.5"/><circle cx="353.9" cy="39.5" r="4.5"/><circle cx="361.9" cy="42.5" r="4.5"/><circle cx="369.8" cy="45.7" r="4.5"/><circle cx="377.7" cy="48.9" r="4.5"/><circle cx="385.7" cy="51.7" r="4.5"/><circle cx="393.6" cy="54.5" r="4.5"/><circle cx="401.5" cy="58.4" r="4.5"/><circle cx="409.5" cy="67.6" r="4.5"/><circle cx="417.4" cy="77.3" r="4.5"/><circle cx="425.3" cy="82.8" r="4.5"/><circle cx="433.3" cy="85.7" r="4.5"/><circle cx="441.2" cy="86.3" r="4.5"/><circle cx="449.1" cy="86.7" r="4.5"/><circle cx="457.1" cy="87.0" r="4.5"/><circle cx="465.0" cy="87.2" r="4.5"/><circle cx="473.0" cy="87.4" r="4.5"/><circle cx="480.9" cy="87.6" r="4.5"/><circle cx="488.8" cy="87.9" r="4.5"/><circle cx="496.8" cy="88.3" r="4.5"/><circle cx="504.7" cy="88.7" r="4.5"/><circle cx="512.6" cy="89.1" r="4.5"/><circle cx="520.6" cy="89.6" r="4.5"/><circle cx="528.5" cy="90.2" r="4.5"/><circle cx="536.4" cy="91.1" r="4.5"/><circle cx="544.4" cy="92.3" r="4.5"/><circle cx="552.3" cy="93.7" r="4.5"/><circle cx="560.2" cy="95.2" r="4.5"/><circle cx="568.2" cy="96.7" r="4.5"/><circle cx="576.1" cy="98.2" r="4.5"/><circle cx="584.0" cy="99.5" r="4.5"/><circle cx="592.0" cy="100.9" r="4.5"/><circle cx="599.9" cy="102.2" r="4.5"/><circle cx="607.8" cy="103.6" r="4.5"/><circle cx="615.8" cy="105.0" r="4.5"/><circle cx="623.7" cy="106.4" r="4.5"/><circle cx="631.7" cy="107.8" r="4.5"/><circle cx="639.6" cy="109.1" r="4.5"/><circle cx="647.5" cy="110.4" r="4.5"/><circle cx="655.5" cy="111.8" r="4.5"/><circle cx="663.4" cy="113.3" r="4.5"/><circle cx="671.3" cy="115.0" r="4.5"/><circle cx="679.3" cy="116.9" r="4.5"/><circle cx="687.2" cy="119.1" r="4.5"/><circle cx="695.1" cy="121.7" r="4.5"/><circle cx="703.1" cy="124.7" r="4.5"/><circle cx="711.0" cy="128.0" r="4.5"/><circle cx="718.9" cy="131.3" r="4.5"/><circle cx="726.9" cy="134.8" r="4.5"/><circle cx="734.8" cy="138.2" r="4.5"/><circle cx="742.7" cy="141.5" r="4.5"/><circle cx="750.7" cy="144.9" r="4.5"/><circle cx="758.6" cy="148.4" r="4.5"/><circle cx="766.5" cy="152.0" r="4.5"/><circle cx="774.5" cy="155.6" r="4.5"/><circle cx="782.4" cy="159.1" r="4.5"/><circle cx="790.4" cy="162.5" r="4.5"/><circle cx="798.3" cy="165.7" r="4.5"/><circle cx="806.2" cy="168.8" r="4.5"/><circle cx="814.2" cy="171.9" r="4.5"/><circle cx="822.1" cy="174.8" r="4.5"/><circle cx="830.0" cy="177.8" r="4.5"/><circle cx="838.0" cy="180.6" r="4.5"/><circle cx="845.9" cy="183.3" r="4.5"/></g>
<g fill="#1A56A8" stroke="#123F85" stroke-width="1.0"><circle cx="60.3" cy="36.4" r="5.0"/><circle cx="68.3" cy="30.0" r="5.0"/><circle cx="76.2" cy="23.6" r="5.0"/><circle cx="84.1" cy="19.8" r="5.0"/><circle cx="92.1" cy="18.2" r="5.0"/><circle cx="100.0" cy="17.5" r="5.0"/><circle cx="107.9" cy="17.5" r="5.0"/><circle cx="115.9" cy="17.5" r="5.0"/><circle cx="123.8" cy="17.5" r="5.0"/><circle cx="131.8" cy="17.5" r="5.0"/><circle cx="139.7" cy="18.6" r="5.0"/><circle cx="147.6" cy="20.5" r="5.0"/><circle cx="155.6" cy="22.8" r="5.0"/><circle cx="163.5" cy="25.1" r="5.0"/><circle cx="171.4" cy="26.9" r="5.0"/><circle cx="179.4" cy="28.1" r="5.0"/><circle cx="187.3" cy="28.4" r="5.0"/><circle cx="195.2" cy="28.5" r="5.0"/><circle cx="203.2" cy="28.7" r="5.0"/><circle cx="211.1" cy="28.9" r="5.0"/><circle cx="219.0" cy="29.1" r="5.0"/><circle cx="227.0" cy="29.5" r="5.0"/><circle cx="234.9" cy="29.9" r="5.0"/><circle cx="242.8" cy="30.3" r="5.0"/><circle cx="250.8" cy="30.8" r="5.0"/><circle cx="258.7" cy="31.3" r="5.0"/><circle cx="266.6" cy="31.9" r="5.0"/><circle cx="274.6" cy="32.5" r="5.0"/><circle cx="282.5" cy="33.1" r="5.0"/><circle cx="290.4" cy="33.8" r="5.0"/><circle cx="298.4" cy="34.4" r="5.0"/><circle cx="306.3" cy="35.1" r="5.0"/><circle cx="314.3" cy="35.8" r="5.0"/><circle cx="322.2" cy="36.5" r="5.0"/><circle cx="330.1" cy="37.1" r="5.0"/><circle cx="338.1" cy="37.6" r="5.0"/><circle cx="346.0" cy="38.0" r="5.0"/><circle cx="353.9" cy="38.3" r="5.0"/><circle cx="361.9" cy="38.6" r="5.0"/><circle cx="369.8" cy="39.0" r="5.0"/><circle cx="377.7" cy="39.3" r="5.0"/><circle cx="385.7" cy="39.8" r="5.0"/><circle cx="393.6" cy="40.3" r="5.0"/><circle cx="401.5" cy="40.9" r="5.0"/><circle cx="409.5" cy="41.6" r="5.0"/><circle cx="417.4" cy="42.2" r="5.0"/><circle cx="425.3" cy="42.8" r="5.0"/><circle cx="433.3" cy="43.3" r="5.0"/><circle cx="441.2" cy="43.8" r="5.0"/><circle cx="449.1" cy="44.1" r="5.0"/><circle cx="457.1" cy="44.4" r="5.0"/><circle cx="465.0" cy="44.5" r="5.0"/><circle cx="473.0" cy="44.7" r="5.0"/><circle cx="480.9" cy="44.8" r="5.0"/><circle cx="488.8" cy="45.1" r="5.0"/><circle cx="496.8" cy="45.4" r="5.0"/><circle cx="504.7" cy="45.9" r="5.0"/><circle cx="512.6" cy="47.2" r="5.0"/><circle cx="520.6" cy="48.9" r="5.0"/><circle cx="528.5" cy="50.5" r="5.0"/><circle cx="536.4" cy="51.9" r="5.0"/><circle cx="544.4" cy="53.3" r="5.0"/><circle cx="552.3" cy="54.7" r="5.0"/><circle cx="560.2" cy="56.2" r="5.0"/><circle cx="568.2" cy="57.6" r="5.0"/><circle cx="576.1" cy="59.2" r="5.0"/><circle cx="584.0" cy="60.7" r="5.0"/><circle cx="592.0" cy="62.3" r="5.0"/><circle cx="599.9" cy="63.9" r="5.0"/><circle cx="607.8" cy="65.5" r="5.0"/><circle cx="615.8" cy="67.1" r="5.0"/><circle cx="623.7" cy="68.6" r="5.0"/><circle cx="631.7" cy="70.1" r="5.0"/><circle cx="639.6" cy="71.6" r="5.0"/><circle cx="647.5" cy="73.0" r="5.0"/><circle cx="655.5" cy="74.4" r="5.0"/><circle cx="663.4" cy="75.9" r="5.0"/><circle cx="671.3" cy="77.3" r="5.0"/><circle cx="679.3" cy="78.7" r="5.0"/><circle cx="687.2" cy="80.1" r="5.0"/><circle cx="695.1" cy="81.4" r="5.0"/><circle cx="703.1" cy="82.7" r="5.0"/><circle cx="711.0" cy="84.0" r="5.0"/><circle cx="718.9" cy="85.4" r="5.0"/><circle cx="726.9" cy="86.9" r="5.0"/><circle cx="734.8" cy="88.6" r="5.0"/><circle cx="742.7" cy="90.4" r="5.0"/><circle cx="750.7" cy="92.4" r="5.0"/><circle cx="758.6" cy="94.6" r="5.0"/><circle cx="766.5" cy="97.0" r="5.0"/><circle cx="774.5" cy="99.4" r="5.0"/><circle cx="782.4" cy="102.0" r="5.0"/><circle cx="790.4" cy="104.6" r="5.0"/><circle cx="798.3" cy="107.1" r="5.0"/><circle cx="806.2" cy="109.8" r="5.0"/><circle cx="814.2" cy="112.5" r="5.0"/><circle cx="822.1" cy="115.4" r="5.0"/><circle cx="830.0" cy="118.3" r="5.0"/><circle cx="838.0" cy="121.2" r="5.0"/><circle cx="845.9" cy="124.3" r="5.0"/></g>
<g fill="#15733A" stroke="#0F5A2C" stroke-width="1.0"><circle cx="60.3" cy="32.3" r="5.5"/><circle cx="68.3" cy="27.0" r="5.5"/><circle cx="76.2" cy="22.8" r="5.5"/><circle cx="84.1" cy="19.2" r="5.5"/><circle cx="92.1" cy="17.8" r="5.5"/><circle cx="100.0" cy="16.9" r="5.5"/><circle cx="107.9" cy="16.7" r="5.5"/><circle cx="115.9" cy="16.7" r="5.5"/><circle cx="123.8" cy="16.7" r="5.5"/><circle cx="131.8" cy="16.7" r="5.5"/><circle cx="139.7" cy="16.8" r="5.5"/><circle cx="147.6" cy="16.9" r="5.5"/><circle cx="155.6" cy="17.2" r="5.5"/><circle cx="163.5" cy="17.4" r="5.5"/><circle cx="171.4" cy="17.5" r="5.5"/><circle cx="179.4" cy="17.6" r="5.5"/><circle cx="187.3" cy="17.7" r="5.5"/><circle cx="195.2" cy="17.8" r="5.5"/><circle cx="203.2" cy="17.9" r="5.5"/><circle cx="211.1" cy="18.0" r="5.5"/><circle cx="219.0" cy="18.0" r="5.5"/><circle cx="227.0" cy="18.1" r="5.5"/><circle cx="234.9" cy="18.2" r="5.5"/><circle cx="242.8" cy="18.3" r="5.5"/><circle cx="250.8" cy="18.5" r="5.5"/><circle cx="258.7" cy="18.6" r="5.5"/><circle cx="266.6" cy="18.7" r="5.5"/><circle cx="274.6" cy="18.9" r="5.5"/><circle cx="282.5" cy="19.1" r="5.5"/><circle cx="290.4" cy="19.3" r="5.5"/><circle cx="298.4" cy="19.6" r="5.5"/><circle cx="306.3" cy="19.9" r="5.5"/><circle cx="314.3" cy="20.2" r="5.5"/><circle cx="322.2" cy="20.6" r="5.5"/><circle cx="330.1" cy="20.9" r="5.5"/><circle cx="338.1" cy="21.3" r="5.5"/><circle cx="346.0" cy="21.8" r="5.5"/><circle cx="353.9" cy="22.3" r="5.5"/><circle cx="361.9" cy="22.7" r="5.5"/><circle cx="369.8" cy="23.1" r="5.5"/><circle cx="377.7" cy="23.5" r="5.5"/><circle cx="385.7" cy="23.7" r="5.5"/><circle cx="393.6" cy="23.9" r="5.5"/><circle cx="401.5" cy="24.1" r="5.5"/><circle cx="409.5" cy="24.3" r="5.5"/><circle cx="417.4" cy="24.4" r="5.5"/><circle cx="425.3" cy="24.5" r="5.5"/><circle cx="433.3" cy="24.6" r="5.5"/><circle cx="441.2" cy="24.7" r="5.5"/><circle cx="449.1" cy="24.8" r="5.5"/><circle cx="457.1" cy="25.0" r="5.5"/><circle cx="465.0" cy="25.1" r="5.5"/><circle cx="473.0" cy="25.3" r="5.5"/><circle cx="480.9" cy="25.5" r="5.5"/><circle cx="488.8" cy="25.8" r="5.5"/><circle cx="496.8" cy="26.1" r="5.5"/><circle cx="504.7" cy="26.6" r="5.5"/><circle cx="512.6" cy="27.6" r="5.5"/><circle cx="520.6" cy="28.5" r="5.5"/><circle cx="528.5" cy="29.4" r="5.5"/><circle cx="536.4" cy="30.3" r="5.5"/><circle cx="544.4" cy="31.2" r="5.5"/><circle cx="552.3" cy="32.1" r="5.5"/><circle cx="560.2" cy="33.1" r="5.5"/><circle cx="568.2" cy="34.2" r="5.5"/><circle cx="576.1" cy="35.4" r="5.5"/><circle cx="584.0" cy="36.6" r="5.5"/><circle cx="592.0" cy="37.8" r="5.5"/><circle cx="599.9" cy="39.0" r="5.5"/><circle cx="607.8" cy="40.3" r="5.5"/><circle cx="615.8" cy="41.5" r="5.5"/><circle cx="623.7" cy="42.7" r="5.5"/><circle cx="631.7" cy="43.9" r="5.5"/><circle cx="639.6" cy="45.0" r="5.5"/><circle cx="647.5" cy="46.2" r="5.5"/><circle cx="655.5" cy="47.3" r="5.5"/><circle cx="663.4" cy="48.5" r="5.5"/><circle cx="671.3" cy="49.6" r="5.5"/><circle cx="679.3" cy="50.8" r="5.5"/><circle cx="687.2" cy="52.0" r="5.5"/><circle cx="695.1" cy="53.2" r="5.5"/><circle cx="703.1" cy="54.5" r="5.5"/><circle cx="711.0" cy="55.7" r="5.5"/><circle cx="718.9" cy="56.9" r="5.5"/><circle cx="726.9" cy="58.1" r="5.5"/><circle cx="734.8" cy="59.3" r="5.5"/><circle cx="742.7" cy="60.5" r="5.5"/><circle cx="750.7" cy="61.6" r="5.5"/><circle cx="758.6" cy="62.7" r="5.5"/><circle cx="766.5" cy="63.8" r="5.5"/><circle cx="774.5" cy="64.9" r="5.5"/><circle cx="782.4" cy="66.0" r="5.5"/><circle cx="790.4" cy="67.1" r="5.5"/><circle cx="798.3" cy="68.3" r="5.5"/><circle cx="806.2" cy="69.4" r="5.5"/><circle cx="814.2" cy="70.6" r="5.5"/><circle cx="822.1" cy="71.8" r="5.5"/><circle cx="830.0" cy="73.0" r="5.5"/><circle cx="838.0" cy="74.2" r="5.5"/><circle cx="845.9" cy="75.4" r="5.5"/></g>
<text transform="translate(62.30,60.30) scale(0.88,1)" class="pl">a</text>
<circle cx="321.6" cy="171.20" r="5.5" fill="#F7A98B"/>
<text transform="translate(357.5,176.40) scale(1.08,1)" class="lg">LiDFOB/LiBF<tspan class="sub" dy="4">4</tspan><tspan dy="-4"> - 20 °C (75 kPa)</tspan></text>
<circle cx="321.6" cy="195.85" r="5.5" fill="#D21E26"/>
<text transform="translate(357.5,201.05) scale(1.08,1)" class="lg">LiDFOB/LiBF<tspan class="sub" dy="4">4</tspan><tspan dy="-4"> - 40 °C (75 kPa)</tspan></text>
<circle cx="321.6" cy="220.50" r="5.5" fill="#B4B4B4"/>
<text transform="translate(357.5,225.70) scale(1.08,1)" class="lg">LiDFOB/LiBF<tspan class="sub" dy="4">4</tspan><tspan dy="-4"> - Hot Form - 20 °C (75 kPa)</tspan></text>
<circle cx="321.6" cy="245.15" r="5.5" fill="#A8CDE6"/>
<text transform="translate(357.5,250.35) scale(1.08,1)" class="lg">LiDFOB/LiBF<tspan class="sub" dy="4">4</tspan><tspan dy="-4"> - 20 °C (1200 kPa)</tspan></text>
<circle cx="321.6" cy="269.80" r="5.5" fill="#1A56A8"/>
<text transform="translate(357.5,275.00) scale(1.08,1)" class="lg">LiDFOB/LiBF<tspan class="sub" dy="4">4</tspan><tspan dy="-4"> - 40 °C (1200 kPa)</tspan></text>
<circle cx="321.6" cy="294.45" r="5.5" fill="#15733A"/>
<text transform="translate(357.5,299.65) scale(1.08,1)" class="lg">LiDFOB/LiBF<tspan class="sub" dy="4">4</tspan><tspan dy="-4"> - Hot Form - 20 °C (1200 kPa)</tspan></text>
<text x="446" y="411" text-anchor="middle" class="ax">Cycle No.</text>
<text transform="translate(15.00,190.80) rotate(-90)" text-anchor="middle" class="ay">Normalized Discharge Capacity</text>
<path d="M52.10 803.20V796.70M52.10 439.10V445.60M118.48 803.20V796.70M118.48 439.10V445.60M184.86 803.20V796.70M184.86 439.10V445.60M251.24 803.20V796.70M251.24 439.10V445.60M317.62 803.20V796.70M317.62 439.10V445.60M384.00 803.20V796.70M384.00 439.10V445.60M85.29 803.20V799.20M85.29 439.10V443.10M151.67 803.20V799.20M151.67 439.10V443.10M218.05 803.20V799.20M218.05 439.10V443.10M284.43 803.20V799.20M284.43 439.10V443.10M350.81 803.20V799.20M350.81 439.10V443.10M417.19 803.20V799.20M417.19 439.10V443.10M52.10 765.20H59.60M417.60 765.20H410.10M52.10 688.30H59.60M417.60 688.30H410.10M52.10 611.40H59.60M417.60 611.40H410.10M52.10 534.50H59.60M417.60 534.50H410.10M52.10 457.60H59.60M417.60 457.60H410.10M52.10 803.65H56.60M417.60 803.65H413.10M52.10 726.75H56.60M417.60 726.75H413.10M52.10 649.85H56.60M417.60 649.85H413.10M52.10 572.95H56.60M417.60 572.95H413.10M52.10 496.05H56.60M417.60 496.05H413.10" stroke="#000" stroke-width="2.6" fill="none"/>
<rect x="52.10" y="439.10" width="365.50" height="364.10" fill="none" stroke="#000" stroke-width="2.8"/>
<text x="52.10" y="825.30" text-anchor="middle" class="tb">0</text>
<text x="118.48" y="825.30" text-anchor="middle" class="tb">20</text>
<text x="184.86" y="825.30" text-anchor="middle" class="tb">40</text>
<text x="251.24" y="825.30" text-anchor="middle" class="tb">60</text>
<text x="317.62" y="825.30" text-anchor="middle" class="tb">80</text>
<text x="384.00" y="825.30" text-anchor="middle" class="tb">100</text>
<text x="46.50" y="771.40" text-anchor="end" class="tb">0.2</text>
<text x="46.50" y="694.50" text-anchor="end" class="tb">0.4</text>
<text x="46.50" y="617.60" text-anchor="end" class="tb">0.6</text>
<text x="46.50" y="540.70" text-anchor="end" class="tb">0.8</text>
<text x="46.50" y="463.80" text-anchor="end" class="tb">1</text>
<g fill="#F6A98A" stroke="#F6A98A" stroke-width="1.0"><circle cx="55.4" cy="457.6" r="5.3"/><circle cx="58.7" cy="449.9" r="5.3"/><circle cx="62.1" cy="444.1" r="5.3"/><circle cx="65.4" cy="442.7" r="5.3"/><circle cx="68.7" cy="442.2" r="5.3"/><circle cx="72.0" cy="442.2" r="5.3"/><circle cx="75.3" cy="442.2" r="5.3"/><circle cx="78.7" cy="442.2" r="5.3"/><circle cx="82.0" cy="443.2" r="5.3"/><circle cx="85.3" cy="446.1" r="5.3"/><circle cx="88.6" cy="457.6" r="5.3"/><circle cx="91.9" cy="469.1" r="5.3"/><circle cx="95.2" cy="484.9" r="5.3"/><circle cx="98.6" cy="502.2" r="5.3"/><circle cx="101.9" cy="522.2" r="5.3"/><circle cx="105.2" cy="548.3" r="5.3"/><circle cx="108.5" cy="576.0" r="5.3"/><circle cx="111.8" cy="608.3" r="5.3"/><circle cx="115.2" cy="638.7" r="5.3"/><circle cx="118.5" cy="662.5" r="5.3"/><circle cx="121.8" cy="689.8" r="5.3"/><circle cx="125.1" cy="707.9" r="5.3"/><circle cx="128.4" cy="724.1" r="5.3"/><circle cx="131.8" cy="737.9" r="5.3"/><circle cx="135.1" cy="748.6" r="5.3"/><circle cx="138.4" cy="757.5" r="5.3"/><circle cx="141.7" cy="764.8" r="5.3"/><circle cx="145.0" cy="771.0" r="5.3"/><circle cx="148.4" cy="776.3" r="5.3"/><circle cx="151.7" cy="780.6" r="5.3"/><circle cx="155.0" cy="783.6" r="5.3"/><circle cx="158.3" cy="786.0" r="5.3"/><circle cx="161.6" cy="788.3" r="5.3"/><circle cx="164.9" cy="790.7" r="5.3"/><circle cx="168.3" cy="793.0" r="5.3"/><circle cx="171.6" cy="795.2" r="5.3"/><circle cx="174.9" cy="797.3" r="5.3"/><circle cx="178.2" cy="799.4" r="5.3"/><circle cx="181.5" cy="801.4" r="5.3"/><circle cx="184.9" cy="803.3" r="5.3"/></g>
<g fill="none" stroke="#F6A98A" stroke-width="1.1"><circle cx="55.4" cy="457.6" r="4.8999999999999995"/><circle cx="58.7" cy="446.1" r="4.8999999999999995"/><circle cx="62.1" cy="442.2" r="4.8999999999999995"/><circle cx="65.4" cy="440.3" r="4.8999999999999995"/><circle cx="68.7" cy="439.5" r="4.8999999999999995"/><circle cx="72.0" cy="438.9" r="4.8999999999999995"/><circle cx="75.3" cy="438.5" r="4.8999999999999995"/><circle cx="78.7" cy="438.4" r="4.8999999999999995"/><circle cx="82.0" cy="439.1" r="4.8999999999999995"/><circle cx="85.3" cy="440.3" r="4.8999999999999995"/><circle cx="88.6" cy="441.5" r="4.8999999999999995"/><circle cx="91.9" cy="442.2" r="4.8999999999999995"/><circle cx="95.2" cy="438.4" r="4.8999999999999995"/><circle cx="98.6" cy="457.6" r="4.8999999999999995"/><circle cx="101.9" cy="473.0" r="4.8999999999999995"/><circle cx="105.2" cy="489.9" r="4.8999999999999995"/><circle cx="108.5" cy="514.5" r="4.8999999999999995"/><circle cx="111.8" cy="541.8" r="4.8999999999999995"/><circle cx="115.2" cy="571.8" r="4.8999999999999995"/><circle cx="118.5" cy="600.2" r="4.8999999999999995"/><circle cx="121.8" cy="622.9" r="4.8999999999999995"/><circle cx="125.1" cy="651.0" r="4.8999999999999995"/><circle cx="128.4" cy="668.3" r="4.8999999999999995"/><circle cx="131.8" cy="685.2" r="4.8999999999999995"/><circle cx="135.1" cy="700.2" r="4.8999999999999995"/><circle cx="138.4" cy="712.5" r="4.8999999999999995"/><circle cx="141.7" cy="724.1" r="4.8999999999999995"/><circle cx="145.0" cy="732.0" r="4.8999999999999995"/><circle cx="148.4" cy="738.6" r="4.8999999999999995"/><circle cx="151.7" cy="744.5" r="4.8999999999999995"/><circle cx="155.0" cy="750.2" r="4.8999999999999995"/><circle cx="158.3" cy="755.8" r="4.8999999999999995"/><circle cx="161.6" cy="761.0" r="4.8999999999999995"/><circle cx="164.9" cy="765.2" r="4.8999999999999995"/><circle cx="168.3" cy="768.5" r="4.8999999999999995"/><circle cx="171.6" cy="771.3" r="4.8999999999999995"/><circle cx="174.9" cy="773.8" r="4.8999999999999995"/><circle cx="178.2" cy="776.3" r="4.8999999999999995"/><circle cx="181.5" cy="778.6" r="4.8999999999999995"/><circle cx="184.9" cy="780.6" r="4.8999999999999995"/><circle cx="188.2" cy="782.2" r="4.8999999999999995"/><circle cx="191.5" cy="783.5" r="4.8999999999999995"/><circle cx="194.8" cy="784.8" r="4.8999999999999995"/><circle cx="198.1" cy="786.1" r="4.8999999999999995"/><circle cx="201.5" cy="787.5" r="4.8999999999999995"/><circle cx="204.8" cy="788.9" r="4.8999999999999995"/><circle cx="208.1" cy="790.3" r="4.8999999999999995"/><circle cx="211.4" cy="791.8" r="4.8999999999999995"/><circle cx="214.7" cy="793.3" r="4.8999999999999995"/></g>
<g fill="#A6CCE6" stroke="#A6CCE6" stroke-width="1.0"><circle cx="55.4" cy="474.2" r="5.3"/><circle cx="58.7" cy="466.1" r="5.3"/><circle cx="62.1" cy="460.2" r="5.3"/><circle cx="65.4" cy="458.0" r="5.3"/><circle cx="68.7" cy="457.1" r="5.3"/><circle cx="72.0" cy="456.6" r="5.3"/><circle cx="75.3" cy="456.2" r="5.3"/><circle cx="78.7" cy="456.0" r="5.3"/><circle cx="82.0" cy="455.8" r="5.3"/><circle cx="85.3" cy="456.0" r="5.3"/><circle cx="88.6" cy="456.8" r="5.3"/><circle cx="91.9" cy="458.4" r="5.3"/><circle cx="95.2" cy="460.8" r="5.3"/><circle cx="98.6" cy="464.0" r="5.3"/><circle cx="101.9" cy="468.4" r="5.3"/><circle cx="105.2" cy="474.2" r="5.3"/><circle cx="108.5" cy="481.4" r="5.3"/><circle cx="111.8" cy="489.5" r="5.3"/><circle cx="115.2" cy="497.3" r="5.3"/><circle cx="118.5" cy="504.3" r="5.3"/><circle cx="121.8" cy="511.0" r="5.3"/><circle cx="125.1" cy="519.3" r="5.3"/><circle cx="128.4" cy="530.2" r="5.3"/><circle cx="131.8" cy="542.9" r="5.3"/><circle cx="135.1" cy="554.8" r="5.3"/><circle cx="138.4" cy="565.4" r="5.3"/><circle cx="141.7" cy="576.3" r="5.3"/><circle cx="145.0" cy="588.5" r="5.3"/><circle cx="148.4" cy="601.5" r="5.3"/><circle cx="151.7" cy="614.3" r="5.3"/><circle cx="155.0" cy="626.4" r="5.3"/><circle cx="158.3" cy="637.7" r="5.3"/><circle cx="161.6" cy="648.3" r="5.3"/><circle cx="164.9" cy="658.2" r="5.3"/><circle cx="168.3" cy="667.6" r="5.3"/><circle cx="171.6" cy="676.6" r="5.3"/><circle cx="174.9" cy="685.4" r="5.3"/><circle cx="178.2" cy="693.6" r="5.3"/><circle cx="181.5" cy="701.0" r="5.3"/><circle cx="184.9" cy="707.8" r="5.3"/><circle cx="188.2" cy="714.2" r="5.3"/><circle cx="191.5" cy="720.5" r="5.3"/><circle cx="194.8" cy="726.7" r="5.3"/><circle cx="198.1" cy="732.6" r="5.3"/><circle cx="201.5" cy="738.2" r="5.3"/><circle cx="204.8" cy="743.1" r="5.3"/><circle cx="208.1" cy="747.6" r="5.3"/><circle cx="211.4" cy="751.7" r="5.3"/><circle cx="214.7" cy="755.5" r="5.3"/><circle cx="218.0" cy="758.9" r="5.3"/><circle cx="221.4" cy="761.8" r="5.3"/><circle cx="224.7" cy="764.3" r="5.3"/><circle cx="228.0" cy="766.4" r="5.3"/><circle cx="231.3" cy="768.4" r="5.3"/><circle cx="234.6" cy="770.2" r="5.3"/><circle cx="238.0" cy="771.8" r="5.3"/><circle cx="241.3" cy="773.3" r="5.3"/><circle cx="244.6" cy="774.6" r="5.3"/><circle cx="247.9" cy="775.9" r="5.3"/><circle cx="251.2" cy="777.1" r="5.3"/><circle cx="254.6" cy="778.3" r="5.3"/><circle cx="257.9" cy="779.3" r="5.3"/><circle cx="261.2" cy="780.3" r="5.3"/><circle cx="264.5" cy="781.2" r="5.3"/><circle cx="267.8" cy="782.1" r="5.3"/><circle cx="271.2" cy="783.0" r="5.3"/><circle cx="274.5" cy="783.9" r="5.3"/><circle cx="277.8" cy="784.8" r="5.3"/><circle cx="281.1" cy="785.6" r="5.3"/><circle cx="284.4" cy="786.5" r="5.3"/><circle cx="287.7" cy="787.3" r="5.3"/><circle cx="291.1" cy="788.2" r="5.3"/><circle cx="294.4" cy="789.0" r="5.3"/><circle cx="297.7" cy="789.7" r="5.3"/><circle cx="301.0" cy="790.3" r="5.3"/></g>
<g fill="none" stroke="#2474BA" stroke-width="1.4"><circle cx="55.4" cy="457.6" r="4.8"/><circle cx="58.7" cy="457.6" r="4.8"/><circle cx="62.1" cy="457.6" r="4.8"/><circle cx="65.4" cy="457.6" r="4.8"/><circle cx="68.7" cy="457.6" r="4.8"/><circle cx="72.0" cy="457.6" r="4.8"/><circle cx="75.3" cy="457.6" r="4.8"/><circle cx="78.7" cy="457.6" r="4.8"/><circle cx="82.0" cy="457.7" r="4.8"/><circle cx="85.3" cy="457.9" r="4.8"/><circle cx="88.6" cy="458.4" r="4.8"/><circle cx="91.9" cy="459.2" r="4.8"/><circle cx="95.2" cy="460.4" r="4.8"/><circle cx="98.6" cy="462.0" r="4.8"/><circle cx="101.9" cy="463.9" r="4.8"/><circle cx="105.2" cy="466.3" r="4.8"/><circle cx="108.5" cy="469.5" r="4.8"/><circle cx="111.8" cy="473.6" r="4.8"/><circle cx="115.2" cy="479.1" r="4.8"/><circle cx="118.5" cy="486.1" r="4.8"/><circle cx="121.8" cy="494.5" r="4.8"/><circle cx="125.1" cy="503.9" r="4.8"/><circle cx="128.4" cy="513.6" r="4.8"/><circle cx="131.8" cy="523.0" r="4.8"/><circle cx="135.1" cy="531.7" r="4.8"/><circle cx="138.4" cy="539.5" r="4.8"/><circle cx="141.7" cy="546.6" r="4.8"/><circle cx="145.0" cy="553.4" r="4.8"/><circle cx="148.4" cy="560.2" r="4.8"/><circle cx="151.7" cy="567.0" r="4.8"/><circle cx="155.0" cy="573.6" r="4.8"/><circle cx="158.3" cy="579.6" r="4.8"/><circle cx="161.6" cy="585.2" r="4.8"/><circle cx="164.9" cy="590.2" r="4.8"/><circle cx="168.3" cy="594.8" r="4.8"/><circle cx="171.6" cy="599.1" r="4.8"/><circle cx="174.9" cy="603.1" r="4.8"/><circle cx="178.2" cy="606.9" r="4.8"/><circle cx="181.5" cy="610.6" r="4.8"/><circle cx="184.9" cy="614.0" r="4.8"/><circle cx="188.2" cy="617.2" r="4.8"/><circle cx="191.5" cy="620.4" r="4.8"/><circle cx="194.8" cy="623.7" r="4.8"/><circle cx="198.1" cy="627.0" r="4.8"/><circle cx="201.5" cy="630.4" r="4.8"/><circle cx="204.8" cy="633.7" r="4.8"/><circle cx="208.1" cy="637.1" r="4.8"/><circle cx="211.4" cy="640.3" r="4.8"/><circle cx="214.7" cy="643.6" r="4.8"/><circle cx="218.0" cy="646.8" r="4.8"/><circle cx="221.4" cy="649.9" r="4.8"/><circle cx="224.7" cy="653.0" r="4.8"/><circle cx="228.0" cy="656.1" r="4.8"/><circle cx="231.3" cy="659.1" r="4.8"/><circle cx="234.6" cy="662.1" r="4.8"/><circle cx="238.0" cy="665.2" r="4.8"/><circle cx="241.3" cy="668.2" r="4.8"/><circle cx="244.6" cy="671.3" r="4.8"/><circle cx="247.9" cy="674.3" r="4.8"/><circle cx="251.2" cy="677.4" r="4.8"/><circle cx="254.6" cy="680.4" r="4.8"/><circle cx="257.9" cy="683.4" r="4.8"/><circle cx="261.2" cy="686.3" r="4.8"/><circle cx="264.5" cy="689.1" r="4.8"/><circle cx="267.8" cy="691.9" r="4.8"/><circle cx="271.2" cy="694.7" r="4.8"/><circle cx="274.5" cy="697.4" r="4.8"/><circle cx="277.8" cy="700.0" r="4.8"/><circle cx="281.1" cy="702.5" r="4.8"/><circle cx="284.4" cy="705.0" r="4.8"/><circle cx="287.7" cy="707.4" r="4.8"/><circle cx="291.1" cy="709.8" r="4.8"/><circle cx="294.4" cy="712.1" r="4.8"/><circle cx="297.7" cy="714.3" r="4.8"/><circle cx="301.0" cy="716.5" r="4.8"/><circle cx="304.3" cy="718.7" r="4.8"/><circle cx="307.7" cy="720.7" r="4.8"/><circle cx="311.0" cy="722.8" r="4.8"/><circle cx="314.3" cy="724.8" r="4.8"/><circle cx="317.6" cy="726.7" r="4.8"/><circle cx="320.9" cy="728.6" r="4.8"/><circle cx="324.3" cy="730.4" r="4.8"/><circle cx="327.6" cy="732.2" r="4.8"/><circle cx="330.9" cy="733.9" r="4.8"/><circle cx="334.2" cy="735.7" r="4.8"/><circle cx="337.5" cy="737.4" r="4.8"/><circle cx="340.9" cy="739.0" r="4.8"/><circle cx="344.2" cy="740.7" r="4.8"/><circle cx="347.5" cy="742.4" r="4.8"/><circle cx="350.8" cy="744.1" r="4.8"/><circle cx="354.1" cy="745.8" r="4.8"/><circle cx="357.4" cy="747.5" r="4.8"/><circle cx="360.8" cy="749.3" r="4.8"/><circle cx="364.1" cy="751.0" r="4.8"/><circle cx="367.4" cy="752.7" r="4.8"/><circle cx="370.7" cy="754.3" r="4.8"/><circle cx="374.0" cy="755.9" r="4.8"/><circle cx="377.4" cy="757.4" r="4.8"/><circle cx="380.7" cy="758.8" r="4.8"/><circle cx="384.0" cy="760.1" r="4.8"/><circle cx="387.3" cy="761.3" r="4.8"/><circle cx="390.6" cy="762.4" r="4.8"/><circle cx="394.0" cy="763.4" r="4.8"/><circle cx="397.3" cy="764.0" r="4.8"/></g>
<g fill="#2474BA" stroke="#2474BA" stroke-width="1.0"><circle cx="55.4" cy="457.4" r="5.3"/><circle cx="58.7" cy="457.2" r="5.3"/><circle cx="62.1" cy="457.0" r="5.3"/><circle cx="65.4" cy="456.8" r="5.3"/><circle cx="68.7" cy="456.7" r="5.3"/><circle cx="72.0" cy="456.6" r="5.3"/><circle cx="75.3" cy="456.5" r="5.3"/><circle cx="78.7" cy="456.5" r="5.3"/><circle cx="82.0" cy="456.6" r="5.3"/><circle cx="85.3" cy="456.8" r="5.3"/><circle cx="88.6" cy="457.2" r="5.3"/><circle cx="91.9" cy="457.9" r="5.3"/><circle cx="95.2" cy="459.0" r="5.3"/><circle cx="98.6" cy="460.2" r="5.3"/><circle cx="101.9" cy="461.7" r="5.3"/><circle cx="105.2" cy="463.4" r="5.3"/><circle cx="108.5" cy="465.3" r="5.3"/><circle cx="111.8" cy="467.5" r="5.3"/><circle cx="115.2" cy="469.9" r="5.3"/><circle cx="118.5" cy="472.6" r="5.3"/><circle cx="121.8" cy="475.8" r="5.3"/><circle cx="125.1" cy="479.5" r="5.3"/><circle cx="128.4" cy="483.8" r="5.3"/><circle cx="131.8" cy="488.6" r="5.3"/><circle cx="135.1" cy="494.1" r="5.3"/><circle cx="138.4" cy="500.0" r="5.3"/><circle cx="141.7" cy="506.3" r="5.3"/><circle cx="145.0" cy="512.8" r="5.3"/><circle cx="148.4" cy="519.6" r="5.3"/><circle cx="151.7" cy="526.4" r="5.3"/><circle cx="155.0" cy="533.2" r="5.3"/><circle cx="158.3" cy="540.0" r="5.3"/><circle cx="161.6" cy="546.8" r="5.3"/><circle cx="164.9" cy="553.5" r="5.3"/><circle cx="168.3" cy="560.1" r="5.3"/><circle cx="171.6" cy="566.6" r="5.3"/><circle cx="174.9" cy="573.1" r="5.3"/><circle cx="178.2" cy="579.4" r="5.3"/><circle cx="181.5" cy="585.6" r="5.3"/><circle cx="184.9" cy="591.5" r="5.3"/><circle cx="188.2" cy="597.1" r="5.3"/><circle cx="191.5" cy="602.4" r="5.3"/><circle cx="194.8" cy="607.5" r="5.3"/><circle cx="198.1" cy="612.4" r="5.3"/><circle cx="201.5" cy="617.0" r="5.3"/><circle cx="204.8" cy="621.3" r="5.3"/><circle cx="208.1" cy="625.2" r="5.3"/><circle cx="211.4" cy="628.8" r="5.3"/><circle cx="214.7" cy="632.2" r="5.3"/><circle cx="218.0" cy="635.4" r="5.3"/><circle cx="221.4" cy="638.4" r="5.3"/><circle cx="224.7" cy="641.4" r="5.3"/><circle cx="228.0" cy="644.4" r="5.3"/><circle cx="231.3" cy="647.3" r="5.3"/><circle cx="234.6" cy="650.2" r="5.3"/><circle cx="238.0" cy="653.2" r="5.3"/><circle cx="241.3" cy="656.2" r="5.3"/><circle cx="244.6" cy="659.2" r="5.3"/><circle cx="247.9" cy="662.3" r="5.3"/><circle cx="251.2" cy="665.5" r="5.3"/><circle cx="254.6" cy="668.8" r="5.3"/><circle cx="257.9" cy="672.2" r="5.3"/><circle cx="261.2" cy="675.6" r="5.3"/><circle cx="264.5" cy="679.1" r="5.3"/><circle cx="267.8" cy="682.6" r="5.3"/><circle cx="271.2" cy="686.1" r="5.3"/><circle cx="274.5" cy="689.6" r="5.3"/><circle cx="277.8" cy="692.9" r="5.3"/><circle cx="281.1" cy="696.2" r="5.3"/><circle cx="284.4" cy="699.4" r="5.3"/><circle cx="287.7" cy="702.5" r="5.3"/><circle cx="291.1" cy="705.5" r="5.3"/><circle cx="294.4" cy="708.4" r="5.3"/><circle cx="297.7" cy="711.0" r="5.3"/><circle cx="301.0" cy="713.5" r="5.3"/><circle cx="304.3" cy="715.9" r="5.3"/><circle cx="307.7" cy="718.2" r="5.3"/><circle cx="311.0" cy="720.4" r="5.3"/><circle cx="314.3" cy="722.6" r="5.3"/><circle cx="317.6" cy="724.8" r="5.3"/><circle cx="320.9" cy="727.0" r="5.3"/><circle cx="324.3" cy="729.3" r="5.3"/><circle cx="327.6" cy="731.4" r="5.3"/><circle cx="330.9" cy="733.6" r="5.3"/><circle cx="334.2" cy="735.7" r="5.3"/><circle cx="337.5" cy="737.7" r="5.3"/><circle cx="340.9" cy="739.7" r="5.3"/><circle cx="344.2" cy="741.6" r="5.3"/><circle cx="347.5" cy="743.5" r="5.3"/><circle cx="350.8" cy="745.4" r="5.3"/><circle cx="354.1" cy="747.3" r="5.3"/><circle cx="357.4" cy="749.1" r="5.3"/><circle cx="360.8" cy="751.0" r="5.3"/><circle cx="364.1" cy="752.8" r="5.3"/><circle cx="367.4" cy="754.7" r="5.3"/><circle cx="370.7" cy="756.6" r="5.3"/><circle cx="374.0" cy="758.6" r="5.3"/><circle cx="377.4" cy="760.5" r="5.3"/><circle cx="380.7" cy="762.6" r="5.3"/><circle cx="384.0" cy="764.5" r="5.3"/><circle cx="387.3" cy="766.5" r="5.3"/><circle cx="390.6" cy="768.4" r="5.3"/><circle cx="394.0" cy="770.2" r="5.3"/><circle cx="397.3" cy="772.0" r="5.3"/><circle cx="400.6" cy="773.7" r="5.3"/><circle cx="403.9" cy="775.3" r="5.3"/><circle cx="407.2" cy="776.9" r="5.3"/><circle cx="410.6" cy="778.5" r="5.3"/><circle cx="413.9" cy="779.8" r="5.3"/><circle cx="417.2" cy="780.7" r="5.3"/></g>
<g fill="none" stroke="#36A136" stroke-width="1.4"><circle cx="55.4" cy="459.6" r="4.8"/><circle cx="58.7" cy="459.6" r="4.8"/><circle cx="62.1" cy="459.7" r="4.8"/><circle cx="65.4" cy="459.8" r="4.8"/><circle cx="68.7" cy="460.0" r="4.8"/><circle cx="72.0" cy="460.2" r="4.8"/><circle cx="75.3" cy="460.5" r="4.8"/><circle cx="78.7" cy="460.8" r="4.8"/><circle cx="82.0" cy="461.2" r="4.8"/><circle cx="85.3" cy="461.7" r="4.8"/><circle cx="88.6" cy="462.5" r="4.8"/><circle cx="91.9" cy="463.5" r="4.8"/><circle cx="95.2" cy="464.8" r="4.8"/><circle cx="98.6" cy="466.2" r="4.8"/><circle cx="101.9" cy="467.9" r="4.8"/><circle cx="105.2" cy="469.8" r="4.8"/><circle cx="108.5" cy="472.0" r="4.8"/><circle cx="111.8" cy="474.7" r="4.8"/><circle cx="115.2" cy="477.9" r="4.8"/><circle cx="118.5" cy="481.6" r="4.8"/><circle cx="121.8" cy="485.8" r="4.8"/><circle cx="125.1" cy="490.5" r="4.8"/><circle cx="128.4" cy="495.5" r="4.8"/><circle cx="131.8" cy="500.7" r="4.8"/><circle cx="135.1" cy="506.0" r="4.8"/><circle cx="138.4" cy="511.2" r="4.8"/><circle cx="141.7" cy="516.3" r="4.8"/><circle cx="145.0" cy="521.1" r="4.8"/><circle cx="148.4" cy="525.9" r="4.8"/><circle cx="151.7" cy="530.4" r="4.8"/><circle cx="155.0" cy="534.7" r="4.8"/><circle cx="158.3" cy="538.9" r="4.8"/><circle cx="161.6" cy="542.8" r="4.8"/><circle cx="164.9" cy="546.4" r="4.8"/><circle cx="168.3" cy="549.9" r="4.8"/><circle cx="171.6" cy="553.1" r="4.8"/><circle cx="174.9" cy="556.2" r="4.8"/><circle cx="178.2" cy="559.1" r="4.8"/><circle cx="181.5" cy="561.8" r="4.8"/><circle cx="184.9" cy="564.4" r="4.8"/><circle cx="188.2" cy="566.8" r="4.8"/><circle cx="191.5" cy="569.2" r="4.8"/><circle cx="194.8" cy="571.5" r="4.8"/><circle cx="198.1" cy="573.7" r="4.8"/><circle cx="201.5" cy="575.8" r="4.8"/><circle cx="204.8" cy="577.9" r="4.8"/><circle cx="208.1" cy="579.9" r="4.8"/><circle cx="211.4" cy="581.9" r="4.8"/><circle cx="214.7" cy="583.9" r="4.8"/><circle cx="218.0" cy="585.9" r="4.8"/><circle cx="221.4" cy="587.9" r="4.8"/><circle cx="224.7" cy="589.8" r="4.8"/><circle cx="228.0" cy="591.8" r="4.8"/><circle cx="231.3" cy="593.7" r="4.8"/><circle cx="234.6" cy="595.7" r="4.8"/><circle cx="238.0" cy="597.7" r="4.8"/><circle cx="241.3" cy="599.6" r="4.8"/><circle cx="244.6" cy="601.6" r="4.8"/><circle cx="247.9" cy="603.6" r="4.8"/><circle cx="251.2" cy="605.5" r="4.8"/><circle cx="254.6" cy="607.5" r="4.8"/><circle cx="257.9" cy="609.4" r="4.8"/><circle cx="261.2" cy="611.4" r="4.8"/><circle cx="264.5" cy="613.3" r="4.8"/><circle cx="267.8" cy="615.2" r="4.8"/><circle cx="271.2" cy="617.2" r="4.8"/><circle cx="274.5" cy="619.1" r="4.8"/><circle cx="277.8" cy="621.0" r="4.8"/><circle cx="281.1" cy="622.9" r="4.8"/><circle cx="284.4" cy="624.8" r="4.8"/><circle cx="287.7" cy="626.7" r="4.8"/><circle cx="291.1" cy="628.5" r="4.8"/><circle cx="294.4" cy="630.4" r="4.8"/><circle cx="297.7" cy="632.3" r="4.8"/><circle cx="301.0" cy="634.1" r="4.8"/><circle cx="304.3" cy="636.0" r="4.8"/><circle cx="307.7" cy="637.9" r="4.8"/><circle cx="311.0" cy="639.7" r="4.8"/><circle cx="314.3" cy="641.6" r="4.8"/><circle cx="317.6" cy="643.5" r="4.8"/><circle cx="320.9" cy="645.4" r="4.8"/><circle cx="324.3" cy="647.4" r="4.8"/><circle cx="327.6" cy="649.3" r="4.8"/><circle cx="330.9" cy="651.3" r="4.8"/><circle cx="334.2" cy="653.3" r="4.8"/><circle cx="337.5" cy="655.2" r="4.8"/><circle cx="340.9" cy="657.2" r="4.8"/><circle cx="344.2" cy="659.3" r="4.8"/><circle cx="347.5" cy="661.3" r="4.8"/><circle cx="350.8" cy="663.3" r="4.8"/><circle cx="354.1" cy="665.3" r="4.8"/><circle cx="357.4" cy="667.4" r="4.8"/><circle cx="360.8" cy="669.4" r="4.8"/><circle cx="364.1" cy="671.5" r="4.8"/><circle cx="367.4" cy="673.6" r="4.8"/><circle cx="370.7" cy="675.6" r="4.8"/><circle cx="374.0" cy="677.7" r="4.8"/><circle cx="377.4" cy="679.8" r="4.8"/><circle cx="380.7" cy="681.8" r="4.8"/><circle cx="384.0" cy="683.9" r="4.8"/><circle cx="387.3" cy="686.0" r="4.8"/><circle cx="390.6" cy="688.1" r="4.8"/><circle cx="394.0" cy="690.2" r="4.8"/><circle cx="397.3" cy="692.4" r="4.8"/><circle cx="400.6" cy="694.5" r="4.8"/><circle cx="403.9" cy="696.6" r="4.8"/><circle cx="407.2" cy="698.7" r="4.8"/><circle cx="410.6" cy="700.8" r="4.8"/><circle cx="413.9" cy="702.6" r="4.8"/><circle cx="417.2" cy="703.9" r="4.8"/></g>
<g fill="#36A136" stroke="#36A136" stroke-width="1.0"><circle cx="55.4" cy="459.5" r="5.3"/><circle cx="58.7" cy="459.6" r="5.3"/><circle cx="62.1" cy="459.6" r="5.3"/><circle cx="65.4" cy="459.7" r="5.3"/><circle cx="68.7" cy="459.8" r="5.3"/><circle cx="72.0" cy="460.0" r="5.3"/><circle cx="75.3" cy="460.2" r="5.3"/><circle cx="78.7" cy="460.4" r="5.3"/><circle cx="82.0" cy="460.8" r="5.3"/><circle cx="85.3" cy="461.2" r="5.3"/><circle cx="88.6" cy="461.9" r="5.3"/><circle cx="91.9" cy="462.6" r="5.3"/><circle cx="95.2" cy="463.5" r="5.3"/><circle cx="98.6" cy="464.5" r="5.3"/><circle cx="101.9" cy="465.6" r="5.3"/><circle cx="105.2" cy="467.0" r="5.3"/><circle cx="108.5" cy="468.6" r="5.3"/><circle cx="111.8" cy="470.5" r="5.3"/><circle cx="115.2" cy="472.8" r="5.3"/><circle cx="118.5" cy="475.6" r="5.3"/><circle cx="121.8" cy="478.8" r="5.3"/><circle cx="125.1" cy="482.6" r="5.3"/><circle cx="128.4" cy="486.9" r="5.3"/><circle cx="131.8" cy="491.6" r="5.3"/><circle cx="135.1" cy="496.6" r="5.3"/><circle cx="138.4" cy="501.7" r="5.3"/><circle cx="141.7" cy="506.8" r="5.3"/><circle cx="145.0" cy="511.9" r="5.3"/><circle cx="148.4" cy="517.1" r="5.3"/><circle cx="151.7" cy="522.3" r="5.3"/><circle cx="155.0" cy="527.4" r="5.3"/><circle cx="158.3" cy="532.3" r="5.3"/><circle cx="161.6" cy="537.0" r="5.3"/><circle cx="164.9" cy="541.4" r="5.3"/><circle cx="168.3" cy="545.7" r="5.3"/><circle cx="171.6" cy="549.6" r="5.3"/><circle cx="174.9" cy="553.3" r="5.3"/><circle cx="178.2" cy="556.8" r="5.3"/><circle cx="181.5" cy="560.0" r="5.3"/><circle cx="184.9" cy="563.0" r="5.3"/><circle cx="188.2" cy="565.8" r="5.3"/><circle cx="191.5" cy="568.3" r="5.3"/><circle cx="194.8" cy="570.6" r="5.3"/><circle cx="198.1" cy="572.9" r="5.3"/><circle cx="201.5" cy="575.0" r="5.3"/><circle cx="204.8" cy="577.1" r="5.3"/><circle cx="208.1" cy="579.2" r="5.3"/><circle cx="211.4" cy="581.2" r="5.3"/><circle cx="214.7" cy="583.2" r="5.3"/><circle cx="218.0" cy="585.1" r="5.3"/><circle cx="221.4" cy="587.1" r="5.3"/><circle cx="224.7" cy="589.0" r="5.3"/><circle cx="228.0" cy="591.0" r="5.3"/><circle cx="231.3" cy="593.0" r="5.3"/><circle cx="234.6" cy="594.9" r="5.3"/><circle cx="238.0" cy="596.9" r="5.3"/><circle cx="241.3" cy="598.9" r="5.3"/><circle cx="244.6" cy="600.8" r="5.3"/><circle cx="247.9" cy="602.8" r="5.3"/><circle cx="251.2" cy="604.8" r="5.3"/><circle cx="254.6" cy="606.7" r="5.3"/><circle cx="257.9" cy="608.7" r="5.3"/><circle cx="261.2" cy="610.6" r="5.3"/><circle cx="264.5" cy="612.5" r="5.3"/><circle cx="267.8" cy="614.5" r="5.3"/><circle cx="271.2" cy="616.4" r="5.3"/><circle cx="274.5" cy="618.3" r="5.3"/><circle cx="277.8" cy="620.2" r="5.3"/><circle cx="281.1" cy="622.1" r="5.3"/><circle cx="284.4" cy="624.0" r="5.3"/><circle cx="287.7" cy="625.9" r="5.3"/><circle cx="291.1" cy="627.8" r="5.3"/><circle cx="294.4" cy="629.6" r="5.3"/><circle cx="297.7" cy="631.5" r="5.3"/><circle cx="301.0" cy="633.4" r="5.3"/><circle cx="304.3" cy="635.2" r="5.3"/><circle cx="307.7" cy="637.1" r="5.3"/><circle cx="311.0" cy="639.0" r="5.3"/><circle cx="314.3" cy="640.9" r="5.3"/><circle cx="317.6" cy="642.7" r="5.3"/><circle cx="320.9" cy="644.7" r="5.3"/><circle cx="324.3" cy="646.6" r="5.3"/><circle cx="327.6" cy="648.5" r="5.3"/><circle cx="330.9" cy="650.5" r="5.3"/><circle cx="334.2" cy="652.5" r="5.3"/><circle cx="337.5" cy="654.5" r="5.3"/><circle cx="340.9" cy="656.5" r="5.3"/><circle cx="344.2" cy="658.5" r="5.3"/><circle cx="347.5" cy="660.5" r="5.3"/><circle cx="350.8" cy="662.5" r="5.3"/><circle cx="354.1" cy="664.6" r="5.3"/><circle cx="357.4" cy="666.6" r="5.3"/><circle cx="360.8" cy="668.7" r="5.3"/><circle cx="364.1" cy="670.7" r="5.3"/><circle cx="367.4" cy="672.8" r="5.3"/><circle cx="370.7" cy="674.8" r="5.3"/><circle cx="374.0" cy="676.9" r="5.3"/><circle cx="377.4" cy="679.0" r="5.3"/><circle cx="380.7" cy="681.1" r="5.3"/><circle cx="384.0" cy="683.2" r="5.3"/><circle cx="387.3" cy="685.3" r="5.3"/><circle cx="390.6" cy="687.4" r="5.3"/><circle cx="394.0" cy="689.5" r="5.3"/><circle cx="397.3" cy="691.6" r="5.3"/><circle cx="400.6" cy="693.7" r="5.3"/><circle cx="403.9" cy="695.8" r="5.3"/><circle cx="407.2" cy="697.9" r="5.3"/><circle cx="410.6" cy="700.0" r="5.3"/><circle cx="413.9" cy="701.8" r="5.3"/><circle cx="417.2" cy="703.2" r="5.3"/></g>
<text transform="translate(61.20,493.20) scale(0.92,1)" class="pl">b</text>
<circle cx="189.8" cy="457.30" r="5.6" fill="#F6A98A"/>
<text x="224.70" y="462.30" text-anchor="start" class="lg2" >20°C Cycling Control</text>
<circle cx="189.8" cy="477.10" r="5.6" fill="#A6CCE6"/>
<text x="224.70" y="482.10" text-anchor="start" class="lg2" >0.2mL Gas</text>
<circle cx="189.8" cy="496.90" r="5.6" fill="#2474BA"/>
<text x="224.70" y="501.90" text-anchor="start" class="lg2" >C/5 Hot Form + Degas</text>
<circle cx="189.8" cy="516.70" r="5.6" fill="#36A136"/>
<text x="224.70" y="521.70" text-anchor="start" class="lg2" >C/5 Hot Form + 0.2mL Gas</text>
<text x="240.00" y="553.00" text-anchor="start" class="lg3" >Pressure = 75 kPa</text>
<text x="231" y="846" text-anchor="middle" class="ax">Cycle No.</text>
<text transform="translate(14.50,625.00) rotate(-90)" text-anchor="middle" class="ay">Normalized Discharge Capacity</text>
<path d="M480.00 801.90V795.40M480.00 437.70V444.20M546.40 801.90V795.40M546.40 437.70V444.20M612.80 801.90V795.40M612.80 437.70V444.20M679.20 801.90V795.40M679.20 437.70V444.20M745.60 801.90V795.40M745.60 437.70V444.20M812.00 801.90V795.40M812.00 437.70V444.20M513.20 801.90V797.90M513.20 437.70V441.70M579.60 801.90V797.90M579.60 437.70V441.70M646.00 801.90V797.90M646.00 437.70V441.70M712.40 801.90V797.90M712.40 437.70V441.70M778.80 801.90V797.90M778.80 437.70V441.70M845.20 801.90V797.90M845.20 437.70V441.70M480.90 763.80H488.40M845.80 763.80H838.30M480.90 687.10H488.40M845.80 687.10H838.30M480.90 610.40H488.40M845.80 610.40H838.30M480.90 533.70H488.40M845.80 533.70H838.30M480.90 457.00H488.40M845.80 457.00H838.30M480.90 802.15H485.40M845.80 802.15H841.30M480.90 725.45H485.40M845.80 725.45H841.30M480.90 648.75H485.40M845.80 648.75H841.30M480.90 572.05H485.40M845.80 572.05H841.30M480.90 495.35H485.40M845.80 495.35H841.30" stroke="#000" stroke-width="2.6" fill="none"/>
<rect x="480.90" y="437.70" width="364.90" height="364.20" fill="none" stroke="#000" stroke-width="2.8"/>
<text x="480.00" y="823.50" text-anchor="middle" class="tb">0</text>
<text x="546.40" y="823.50" text-anchor="middle" class="tb">20</text>
<text x="612.80" y="823.50" text-anchor="middle" class="tb">40</text>
<text x="679.20" y="823.50" text-anchor="middle" class="tb">60</text>
<text x="745.60" y="823.50" text-anchor="middle" class="tb">80</text>
<text x="812.00" y="823.50" text-anchor="middle" class="tb">100</text>
<text x="474.80" y="770.00" text-anchor="end" class="tb">0.2</text>
<text x="474.80" y="693.30" text-anchor="end" class="tb">0.4</text>
<text x="474.80" y="616.60" text-anchor="end" class="tb">0.6</text>
<text x="474.80" y="539.90" text-anchor="end" class="tb">0.8</text>
<text x="474.80" y="463.20" text-anchor="end" class="tb">1</text>
<g fill="none" stroke="#F6A98A" stroke-width="1.1"><circle cx="483.3" cy="457.0" r="4.8999999999999995"/><circle cx="486.6" cy="452.2" r="4.8999999999999995"/><circle cx="490.0" cy="449.3" r="4.8999999999999995"/><circle cx="493.3" cy="448.0" r="4.8999999999999995"/><circle cx="496.6" cy="447.4" r="4.8999999999999995"/><circle cx="499.9" cy="447.5" r="4.8999999999999995"/><circle cx="503.2" cy="447.6" r="4.8999999999999995"/><circle cx="506.6" cy="448.0" r="4.8999999999999995"/><circle cx="509.9" cy="448.5" r="4.8999999999999995"/><circle cx="513.2" cy="449.3" r="4.8999999999999995"/><circle cx="516.5" cy="457.0" r="4.8999999999999995"/><circle cx="519.8" cy="472.3" r="4.8999999999999995"/><circle cx="523.2" cy="482.2" r="4.8999999999999995"/><circle cx="526.5" cy="501.9" r="4.8999999999999995"/><circle cx="529.8" cy="521.0" r="4.8999999999999995"/><circle cx="533.1" cy="544.0" r="4.8999999999999995"/><circle cx="536.4" cy="577.9" r="4.8999999999999995"/><circle cx="539.8" cy="606.6" r="4.8999999999999995"/><circle cx="543.1" cy="638.6" r="4.8999999999999995"/><circle cx="546.4" cy="659.8" r="4.8999999999999995"/><circle cx="549.7" cy="687.9" r="4.8999999999999995"/><circle cx="553.0" cy="704.6" r="4.8999999999999995"/><circle cx="556.4" cy="721.2" r="4.8999999999999995"/><circle cx="559.7" cy="736.2" r="4.8999999999999995"/><circle cx="563.0" cy="745.8" r="4.8999999999999995"/><circle cx="566.3" cy="754.2" r="4.8999999999999995"/><circle cx="569.6" cy="761.3" r="4.8999999999999995"/><circle cx="573.0" cy="767.0" r="4.8999999999999995"/><circle cx="576.3" cy="772.3" r="4.8999999999999995"/><circle cx="579.6" cy="776.8" r="4.8999999999999995"/><circle cx="582.9" cy="780.0" r="4.8999999999999995"/><circle cx="586.2" cy="782.9" r="4.8999999999999995"/><circle cx="589.6" cy="785.7" r="4.8999999999999995"/><circle cx="592.9" cy="788.1" r="4.8999999999999995"/><circle cx="596.2" cy="790.2" r="4.8999999999999995"/><circle cx="599.5" cy="792.2" r="4.8999999999999995"/><circle cx="602.8" cy="794.2" r="4.8999999999999995"/><circle cx="606.2" cy="796.2" r="4.8999999999999995"/><circle cx="609.5" cy="798.1" r="4.8999999999999995"/><circle cx="612.8" cy="799.8" r="4.8999999999999995"/></g>
<g fill="#F6A98A" stroke="#F6A98A" stroke-width="1.0"><circle cx="483.3" cy="445.5" r="5.3"/><circle cx="486.6" cy="441.7" r="5.3"/><circle cx="490.0" cy="440.9" r="5.3"/><circle cx="493.3" cy="441.3" r="5.3"/><circle cx="496.6" cy="442.4" r="5.3"/><circle cx="499.9" cy="445.5" r="5.3"/><circle cx="503.2" cy="450.2" r="5.3"/><circle cx="506.6" cy="453.2" r="5.3"/><circle cx="509.9" cy="453.2" r="5.3"/><circle cx="513.2" cy="453.2" r="5.3"/><circle cx="516.5" cy="445.5" r="5.3"/><circle cx="519.8" cy="438.0" r="5.3"/><circle cx="523.2" cy="443.2" r="5.3"/><circle cx="526.5" cy="457.0" r="5.3"/><circle cx="529.8" cy="472.3" r="5.3"/><circle cx="533.1" cy="486.3" r="5.3"/><circle cx="536.4" cy="509.9" r="5.3"/><circle cx="539.8" cy="539.8" r="5.3"/><circle cx="543.1" cy="573.4" r="5.3"/><circle cx="546.4" cy="598.9" r="5.3"/><circle cx="549.7" cy="622.7" r="5.3"/><circle cx="553.0" cy="649.5" r="5.3"/><circle cx="556.4" cy="668.1" r="5.3"/><circle cx="559.7" cy="683.6" r="5.3"/><circle cx="563.0" cy="697.8" r="5.3"/><circle cx="566.3" cy="709.8" r="5.3"/><circle cx="569.6" cy="719.2" r="5.3"/><circle cx="573.0" cy="728.3" r="5.3"/><circle cx="576.3" cy="736.5" r="5.3"/><circle cx="579.6" cy="743.7" r="5.3"/><circle cx="582.9" cy="750.1" r="5.3"/><circle cx="586.2" cy="755.4" r="5.3"/><circle cx="589.6" cy="759.6" r="5.3"/><circle cx="592.9" cy="763.2" r="5.3"/><circle cx="596.2" cy="766.4" r="5.3"/><circle cx="599.5" cy="769.4" r="5.3"/><circle cx="602.8" cy="772.2" r="5.3"/><circle cx="606.2" cy="774.8" r="5.3"/><circle cx="609.5" cy="777.0" r="5.3"/><circle cx="612.8" cy="778.9" r="5.3"/><circle cx="616.1" cy="780.6" r="5.3"/><circle cx="619.4" cy="782.2" r="5.3"/><circle cx="622.8" cy="783.7" r="5.3"/><circle cx="626.1" cy="785.1" r="5.3"/><circle cx="629.4" cy="786.5" r="5.3"/><circle cx="632.7" cy="787.8" r="5.3"/><circle cx="636.0" cy="789.2" r="5.3"/><circle cx="639.4" cy="790.6" r="5.3"/><circle cx="642.7" cy="792.2" r="5.3"/></g>
<g fill="none" stroke="#2474BA" stroke-width="1.4"><circle cx="483.3" cy="457.0" r="4.8"/><circle cx="486.6" cy="457.0" r="4.8"/><circle cx="490.0" cy="457.0" r="4.8"/><circle cx="493.3" cy="457.0" r="4.8"/><circle cx="496.6" cy="457.0" r="4.8"/><circle cx="499.9" cy="457.0" r="4.8"/><circle cx="503.2" cy="457.0" r="4.8"/><circle cx="506.6" cy="457.0" r="4.8"/><circle cx="509.9" cy="457.2" r="4.8"/><circle cx="513.2" cy="457.5" r="4.8"/><circle cx="516.5" cy="458.3" r="4.8"/><circle cx="519.8" cy="459.7" r="4.8"/><circle cx="523.2" cy="461.7" r="4.8"/><circle cx="526.5" cy="464.5" r="4.8"/><circle cx="529.8" cy="467.9" r="4.8"/><circle cx="533.1" cy="471.9" r="4.8"/><circle cx="536.4" cy="476.2" r="4.8"/><circle cx="539.8" cy="480.7" r="4.8"/><circle cx="543.1" cy="485.6" r="4.8"/><circle cx="546.4" cy="491.0" r="4.8"/><circle cx="549.7" cy="497.0" r="4.8"/><circle cx="553.0" cy="503.6" r="4.8"/><circle cx="556.4" cy="510.8" r="4.8"/><circle cx="559.7" cy="518.4" r="4.8"/><circle cx="563.0" cy="526.2" r="4.8"/><circle cx="566.3" cy="533.9" r="4.8"/><circle cx="569.6" cy="541.3" r="4.8"/><circle cx="573.0" cy="548.2" r="4.8"/><circle cx="576.3" cy="554.6" r="4.8"/><circle cx="579.6" cy="560.7" r="4.8"/><circle cx="582.9" cy="566.6" r="4.8"/><circle cx="586.2" cy="572.4" r="4.8"/><circle cx="589.6" cy="578.0" r="4.8"/><circle cx="592.9" cy="583.4" r="4.8"/><circle cx="596.2" cy="588.4" r="4.8"/><circle cx="599.5" cy="593.0" r="4.8"/><circle cx="602.8" cy="597.3" r="4.8"/><circle cx="606.2" cy="601.3" r="4.8"/><circle cx="609.5" cy="605.1" r="4.8"/><circle cx="612.8" cy="608.7" r="4.8"/><circle cx="616.1" cy="612.1" r="4.8"/><circle cx="619.4" cy="615.5" r="4.8"/><circle cx="622.8" cy="618.8" r="4.8"/><circle cx="626.1" cy="622.0" r="4.8"/><circle cx="629.4" cy="625.3" r="4.8"/><circle cx="632.7" cy="628.6" r="4.8"/><circle cx="636.0" cy="631.9" r="4.8"/><circle cx="639.4" cy="635.2" r="4.8"/><circle cx="642.7" cy="638.4" r="4.8"/><circle cx="646.0" cy="641.6" r="4.8"/><circle cx="649.3" cy="644.6" r="4.8"/><circle cx="652.6" cy="647.6" r="4.8"/><circle cx="656.0" cy="650.6" r="4.8"/><circle cx="659.3" cy="653.6" r="4.8"/><circle cx="662.6" cy="656.8" r="4.8"/><circle cx="665.9" cy="660.0" r="4.8"/><circle cx="669.2" cy="663.4" r="4.8"/><circle cx="672.6" cy="666.8" r="4.8"/><circle cx="675.9" cy="670.2" r="4.8"/><circle cx="679.2" cy="673.7" r="4.8"/><circle cx="682.5" cy="677.2" r="4.8"/><circle cx="685.8" cy="680.6" r="4.8"/><circle cx="689.2" cy="684.1" r="4.8"/><circle cx="692.5" cy="687.6" r="4.8"/><circle cx="695.8" cy="691.1" r="4.8"/><circle cx="699.1" cy="694.4" r="4.8"/><circle cx="702.4" cy="697.6" r="4.8"/><circle cx="705.8" cy="700.6" r="4.8"/><circle cx="709.1" cy="703.4" r="4.8"/><circle cx="712.4" cy="706.0" r="4.8"/><circle cx="715.7" cy="708.4" r="4.8"/><circle cx="719.0" cy="710.6" r="4.8"/><circle cx="722.4" cy="712.6" r="4.8"/><circle cx="725.7" cy="714.6" r="4.8"/><circle cx="729.0" cy="716.5" r="4.8"/><circle cx="732.3" cy="718.3" r="4.8"/><circle cx="735.6" cy="720.1" r="4.8"/><circle cx="739.0" cy="721.9" r="4.8"/><circle cx="742.3" cy="723.7" r="4.8"/><circle cx="745.6" cy="725.4" r="4.8"/><circle cx="748.9" cy="727.2" r="4.8"/><circle cx="752.2" cy="729.0" r="4.8"/><circle cx="755.6" cy="730.7" r="4.8"/><circle cx="758.9" cy="732.4" r="4.8"/><circle cx="762.2" cy="734.1" r="4.8"/><circle cx="765.5" cy="735.8" r="4.8"/><circle cx="768.8" cy="737.5" r="4.8"/><circle cx="772.2" cy="739.2" r="4.8"/><circle cx="775.5" cy="741.0" r="4.8"/><circle cx="778.8" cy="742.8" r="4.8"/><circle cx="782.1" cy="744.7" r="4.8"/><circle cx="785.4" cy="746.7" r="4.8"/><circle cx="788.8" cy="748.7" r="4.8"/><circle cx="792.1" cy="750.8" r="4.8"/><circle cx="795.4" cy="752.7" r="4.8"/><circle cx="798.7" cy="754.6" r="4.8"/><circle cx="802.0" cy="756.3" r="4.8"/><circle cx="805.4" cy="757.9" r="4.8"/><circle cx="808.7" cy="759.2" r="4.8"/><circle cx="812.0" cy="760.5" r="4.8"/><circle cx="815.3" cy="761.6" r="4.8"/><circle cx="818.6" cy="762.5" r="4.8"/><circle cx="822.0" cy="763.1" r="4.8"/></g>
<g fill="#2474BA" stroke="#2474BA" stroke-width="1.0"><circle cx="483.3" cy="457.0" r="5.3"/><circle cx="486.6" cy="457.0" r="5.3"/><circle cx="490.0" cy="457.0" r="5.3"/><circle cx="493.3" cy="457.0" r="5.3"/><circle cx="496.6" cy="457.0" r="5.3"/><circle cx="499.9" cy="457.0" r="5.3"/><circle cx="503.2" cy="457.0" r="5.3"/><circle cx="506.6" cy="457.0" r="5.3"/><circle cx="509.9" cy="457.1" r="5.3"/><circle cx="513.2" cy="457.2" r="5.3"/><circle cx="516.5" cy="457.5" r="5.3"/><circle cx="519.8" cy="458.1" r="5.3"/><circle cx="523.2" cy="458.9" r="5.3"/><circle cx="526.5" cy="459.9" r="5.3"/><circle cx="529.8" cy="461.1" r="5.3"/><circle cx="533.1" cy="462.6" r="5.3"/><circle cx="536.4" cy="464.4" r="5.3"/><circle cx="539.8" cy="466.6" r="5.3"/><circle cx="543.1" cy="469.3" r="5.3"/><circle cx="546.4" cy="472.5" r="5.3"/><circle cx="549.7" cy="476.4" r="5.3"/><circle cx="553.0" cy="481.1" r="5.3"/><circle cx="556.4" cy="486.3" r="5.3"/><circle cx="559.7" cy="491.7" r="5.3"/><circle cx="563.0" cy="497.2" r="5.3"/><circle cx="566.3" cy="502.6" r="5.3"/><circle cx="569.6" cy="508.0" r="5.3"/><circle cx="573.0" cy="513.5" r="5.3"/><circle cx="576.3" cy="519.0" r="5.3"/><circle cx="579.6" cy="524.7" r="5.3"/><circle cx="582.9" cy="530.5" r="5.3"/><circle cx="586.2" cy="536.5" r="5.3"/><circle cx="589.6" cy="542.8" r="5.3"/><circle cx="592.9" cy="549.3" r="5.3"/><circle cx="596.2" cy="556.0" r="5.3"/><circle cx="599.5" cy="562.6" r="5.3"/><circle cx="602.8" cy="568.9" r="5.3"/><circle cx="606.2" cy="574.7" r="5.3"/><circle cx="609.5" cy="580.2" r="5.3"/><circle cx="612.8" cy="585.4" r="5.3"/><circle cx="616.1" cy="590.3" r="5.3"/><circle cx="619.4" cy="595.0" r="5.3"/><circle cx="622.8" cy="599.6" r="5.3"/><circle cx="626.1" cy="604.1" r="5.3"/><circle cx="629.4" cy="608.4" r="5.3"/><circle cx="632.7" cy="612.6" r="5.3"/><circle cx="636.0" cy="616.7" r="5.3"/><circle cx="639.4" cy="620.7" r="5.3"/><circle cx="642.7" cy="624.5" r="5.3"/><circle cx="646.0" cy="628.2" r="5.3"/><circle cx="649.3" cy="631.8" r="5.3"/><circle cx="652.6" cy="635.3" r="5.3"/><circle cx="656.0" cy="638.7" r="5.3"/><circle cx="659.3" cy="642.1" r="5.3"/><circle cx="662.6" cy="645.4" r="5.3"/><circle cx="665.9" cy="648.9" r="5.3"/><circle cx="669.2" cy="652.6" r="5.3"/><circle cx="672.6" cy="656.6" r="5.3"/><circle cx="675.9" cy="660.7" r="5.3"/><circle cx="679.2" cy="664.7" r="5.3"/><circle cx="682.5" cy="668.5" r="5.3"/><circle cx="685.8" cy="671.9" r="5.3"/><circle cx="689.2" cy="675.0" r="5.3"/><circle cx="692.5" cy="677.8" r="5.3"/><circle cx="695.8" cy="680.6" r="5.3"/><circle cx="699.1" cy="683.3" r="5.3"/><circle cx="702.4" cy="686.1" r="5.3"/><circle cx="705.8" cy="688.8" r="5.3"/><circle cx="709.1" cy="691.6" r="5.3"/><circle cx="712.4" cy="694.4" r="5.3"/><circle cx="715.7" cy="697.1" r="5.3"/><circle cx="719.0" cy="699.9" r="5.3"/><circle cx="722.4" cy="702.6" r="5.3"/><circle cx="725.7" cy="705.3" r="5.3"/><circle cx="729.0" cy="708.1" r="5.3"/><circle cx="732.3" cy="710.8" r="5.3"/><circle cx="735.6" cy="713.4" r="5.3"/><circle cx="739.0" cy="716.1" r="5.3"/><circle cx="742.3" cy="718.6" r="5.3"/><circle cx="745.6" cy="721.0" r="5.3"/><circle cx="748.9" cy="723.4" r="5.3"/><circle cx="752.2" cy="725.8" r="5.3"/><circle cx="755.6" cy="728.0" r="5.3"/><circle cx="758.9" cy="730.3" r="5.3"/><circle cx="762.2" cy="732.4" r="5.3"/><circle cx="765.5" cy="734.5" r="5.3"/><circle cx="768.8" cy="736.6" r="5.3"/><circle cx="772.2" cy="738.6" r="5.3"/><circle cx="775.5" cy="740.6" r="5.3"/><circle cx="778.8" cy="742.6" r="5.3"/><circle cx="782.1" cy="744.6" r="5.3"/><circle cx="785.4" cy="746.6" r="5.3"/><circle cx="788.8" cy="748.6" r="5.3"/><circle cx="792.1" cy="750.6" r="5.3"/><circle cx="795.4" cy="752.7" r="5.3"/><circle cx="798.7" cy="754.7" r="5.3"/><circle cx="802.0" cy="756.6" r="5.3"/><circle cx="805.4" cy="758.6" r="5.3"/><circle cx="808.7" cy="760.5" r="5.3"/><circle cx="812.0" cy="762.3" r="5.3"/><circle cx="815.3" cy="764.2" r="5.3"/><circle cx="818.6" cy="766.0" r="5.3"/><circle cx="822.0" cy="767.8" r="5.3"/><circle cx="825.3" cy="769.6" r="5.3"/><circle cx="828.6" cy="771.4" r="5.3"/><circle cx="831.9" cy="773.1" r="5.3"/><circle cx="835.2" cy="774.9" r="5.3"/><circle cx="838.6" cy="776.5" r="5.3"/><circle cx="841.9" cy="778.0" r="5.3"/><circle cx="845.2" cy="779.1" r="5.3"/></g>
<g fill="#A6CCE6" stroke="#A6CCE6" stroke-width="1.0"><circle cx="483.3" cy="455.9" r="5.3"/><circle cx="486.6" cy="456.0" r="5.3"/><circle cx="490.0" cy="456.2" r="5.3"/><circle cx="493.3" cy="456.4" r="5.3"/><circle cx="496.6" cy="456.7" r="5.3"/><circle cx="499.9" cy="457.1" r="5.3"/><circle cx="503.2" cy="457.5" r="5.3"/><circle cx="506.6" cy="458.0" r="5.3"/><circle cx="509.9" cy="458.6" r="5.3"/><circle cx="513.2" cy="459.3" r="5.3"/><circle cx="516.5" cy="460.1" r="5.3"/><circle cx="519.8" cy="460.9" r="5.3"/><circle cx="523.2" cy="461.8" r="5.3"/><circle cx="526.5" cy="462.8" r="5.3"/><circle cx="529.8" cy="463.9" r="5.3"/><circle cx="533.1" cy="465.1" r="5.3"/><circle cx="536.4" cy="466.4" r="5.3"/><circle cx="539.8" cy="467.8" r="5.3"/><circle cx="543.1" cy="469.3" r="5.3"/><circle cx="546.4" cy="470.9" r="5.3"/><circle cx="549.7" cy="472.7" r="5.3"/><circle cx="553.0" cy="474.6" r="5.3"/><circle cx="556.4" cy="476.8" r="5.3"/><circle cx="559.7" cy="479.1" r="5.3"/><circle cx="563.0" cy="481.5" r="5.3"/><circle cx="566.3" cy="484.1" r="5.3"/><circle cx="569.6" cy="486.8" r="5.3"/><circle cx="573.0" cy="489.5" r="5.3"/><circle cx="576.3" cy="492.3" r="5.3"/><circle cx="579.6" cy="495.1" r="5.3"/><circle cx="582.9" cy="498.1" r="5.3"/><circle cx="586.2" cy="501.1" r="5.3"/><circle cx="589.6" cy="504.2" r="5.3"/><circle cx="592.9" cy="507.3" r="5.3"/><circle cx="596.2" cy="510.5" r="5.3"/><circle cx="599.5" cy="513.6" r="5.3"/><circle cx="602.8" cy="516.6" r="5.3"/><circle cx="606.2" cy="519.6" r="5.3"/><circle cx="609.5" cy="522.6" r="5.3"/><circle cx="612.8" cy="525.5" r="5.3"/><circle cx="616.1" cy="528.4" r="5.3"/><circle cx="619.4" cy="531.3" r="5.3"/><circle cx="622.8" cy="534.1" r="5.3"/><circle cx="626.1" cy="536.8" r="5.3"/><circle cx="629.4" cy="539.5" r="5.3"/><circle cx="632.7" cy="542.2" r="5.3"/><circle cx="636.0" cy="544.7" r="5.3"/><circle cx="639.4" cy="547.3" r="5.3"/><circle cx="642.7" cy="549.8" r="5.3"/><circle cx="646.0" cy="552.2" r="5.3"/><circle cx="649.3" cy="554.7" r="5.3"/><circle cx="652.6" cy="557.1" r="5.3"/><circle cx="656.0" cy="559.5" r="5.3"/><circle cx="659.3" cy="561.9" r="5.3"/><circle cx="662.6" cy="564.3" r="5.3"/><circle cx="665.9" cy="566.7" r="5.3"/><circle cx="669.2" cy="569.1" r="5.3"/><circle cx="672.6" cy="571.4" r="5.3"/><circle cx="675.9" cy="573.8" r="5.3"/><circle cx="679.2" cy="576.1" r="5.3"/><circle cx="682.5" cy="578.4" r="5.3"/><circle cx="685.8" cy="580.8" r="5.3"/><circle cx="689.2" cy="583.1" r="5.3"/><circle cx="692.5" cy="585.5" r="5.3"/><circle cx="695.8" cy="587.8" r="5.3"/><circle cx="699.1" cy="590.2" r="5.3"/><circle cx="702.4" cy="592.6" r="5.3"/><circle cx="705.8" cy="595.1" r="5.3"/><circle cx="709.1" cy="597.5" r="5.3"/><circle cx="712.4" cy="599.9" r="5.3"/><circle cx="715.7" cy="602.3" r="5.3"/><circle cx="719.0" cy="604.6" r="5.3"/><circle cx="722.4" cy="606.9" r="5.3"/><circle cx="725.7" cy="609.3" r="5.3"/><circle cx="729.0" cy="611.6" r="5.3"/><circle cx="732.3" cy="613.8" r="5.3"/><circle cx="735.6" cy="616.1" r="5.3"/><circle cx="739.0" cy="618.3" r="5.3"/><circle cx="742.3" cy="620.6" r="5.3"/><circle cx="745.6" cy="622.8" r="5.3"/><circle cx="748.9" cy="625.1" r="5.3"/><circle cx="752.2" cy="627.3" r="5.3"/><circle cx="755.6" cy="629.6" r="5.3"/><circle cx="758.9" cy="631.8" r="5.3"/><circle cx="762.2" cy="634.0" r="5.3"/><circle cx="765.5" cy="636.2" r="5.3"/><circle cx="768.8" cy="638.4" r="5.3"/><circle cx="772.2" cy="640.6" r="5.3"/><circle cx="775.5" cy="642.9" r="5.3"/><circle cx="778.8" cy="645.1" r="5.3"/><circle cx="782.1" cy="647.4" r="5.3"/><circle cx="785.4" cy="649.7" r="5.3"/><circle cx="788.8" cy="652.1" r="5.3"/><circle cx="792.1" cy="654.5" r="5.3"/><circle cx="795.4" cy="656.9" r="5.3"/><circle cx="798.7" cy="659.3" r="5.3"/><circle cx="802.0" cy="661.7" r="5.3"/><circle cx="805.4" cy="664.2" r="5.3"/><circle cx="808.7" cy="666.6" r="5.3"/><circle cx="812.0" cy="669.1" r="5.3"/><circle cx="815.3" cy="671.5" r="5.3"/><circle cx="818.6" cy="674.0" r="5.3"/><circle cx="822.0" cy="676.4" r="5.3"/><circle cx="825.3" cy="678.8" r="5.3"/><circle cx="828.6" cy="681.3" r="5.3"/><circle cx="831.9" cy="683.7" r="5.3"/><circle cx="835.2" cy="686.1" r="5.3"/><circle cx="838.6" cy="688.4" r="5.3"/><circle cx="841.9" cy="690.5" r="5.3"/><circle cx="845.2" cy="692.0" r="5.3"/></g>
<g fill="#6CC46C" stroke="#6CC46C" stroke-width="1.0"><circle cx="483.3" cy="456.7" r="5.3"/><circle cx="486.6" cy="456.4" r="5.3"/><circle cx="490.0" cy="456.0" r="5.3"/><circle cx="493.3" cy="455.7" r="5.3"/><circle cx="496.6" cy="455.4" r="5.3"/><circle cx="499.9" cy="455.2" r="5.3"/><circle cx="503.2" cy="455.0" r="5.3"/><circle cx="506.6" cy="454.9" r="5.3"/><circle cx="509.9" cy="454.8" r="5.3"/><circle cx="513.2" cy="454.8" r="5.3"/><circle cx="516.5" cy="454.8" r="5.3"/><circle cx="519.8" cy="454.9" r="5.3"/><circle cx="523.2" cy="455.2" r="5.3"/><circle cx="526.5" cy="455.7" r="5.3"/><circle cx="529.8" cy="456.5" r="5.3"/><circle cx="533.1" cy="457.4" r="5.3"/><circle cx="536.4" cy="458.6" r="5.3"/><circle cx="539.8" cy="459.7" r="5.3"/><circle cx="543.1" cy="460.9" r="5.3"/><circle cx="546.4" cy="462.1" r="5.3"/><circle cx="549.7" cy="463.3" r="5.3"/><circle cx="553.0" cy="464.5" r="5.3"/><circle cx="556.4" cy="465.7" r="5.3"/><circle cx="559.7" cy="467.0" r="5.3"/><circle cx="563.0" cy="468.2" r="5.3"/><circle cx="566.3" cy="469.6" r="5.3"/><circle cx="569.6" cy="470.9" r="5.3"/><circle cx="573.0" cy="472.3" r="5.3"/><circle cx="576.3" cy="473.6" r="5.3"/><circle cx="579.6" cy="475.0" r="5.3"/><circle cx="582.9" cy="476.4" r="5.3"/><circle cx="586.2" cy="477.8" r="5.3"/><circle cx="589.6" cy="479.3" r="5.3"/><circle cx="592.9" cy="480.8" r="5.3"/><circle cx="596.2" cy="482.3" r="5.3"/><circle cx="599.5" cy="484.0" r="5.3"/><circle cx="602.8" cy="485.8" r="5.3"/><circle cx="606.2" cy="487.7" r="5.3"/><circle cx="609.5" cy="489.7" r="5.3"/><circle cx="612.8" cy="491.9" r="5.3"/><circle cx="616.1" cy="494.1" r="5.3"/><circle cx="619.4" cy="496.4" r="5.3"/><circle cx="622.8" cy="498.6" r="5.3"/><circle cx="626.1" cy="500.8" r="5.3"/><circle cx="629.4" cy="503.1" r="5.3"/><circle cx="632.7" cy="505.3" r="5.3"/><circle cx="636.0" cy="507.7" r="5.3"/><circle cx="639.4" cy="510.1" r="5.3"/><circle cx="642.7" cy="512.5" r="5.3"/><circle cx="646.0" cy="515.0" r="5.3"/><circle cx="649.3" cy="517.3" r="5.3"/><circle cx="652.6" cy="519.7" r="5.3"/><circle cx="656.0" cy="522.0" r="5.3"/><circle cx="659.3" cy="524.3" r="5.3"/><circle cx="662.6" cy="526.6" r="5.3"/><circle cx="665.9" cy="528.9" r="5.3"/><circle cx="669.2" cy="531.3" r="5.3"/><circle cx="672.6" cy="533.7" r="5.3"/><circle cx="675.9" cy="536.1" r="5.3"/><circle cx="679.2" cy="538.5" r="5.3"/><circle cx="682.5" cy="541.1" r="5.3"/><circle cx="685.8" cy="543.6" r="5.3"/><circle cx="689.2" cy="546.2" r="5.3"/><circle cx="692.5" cy="548.8" r="5.3"/><circle cx="695.8" cy="551.4" r="5.3"/><circle cx="699.1" cy="553.9" r="5.3"/><circle cx="702.4" cy="556.4" r="5.3"/><circle cx="705.8" cy="558.9" r="5.3"/><circle cx="709.1" cy="561.2" r="5.3"/><circle cx="712.4" cy="563.6" r="5.3"/><circle cx="715.7" cy="565.9" r="5.3"/><circle cx="719.0" cy="568.3" r="5.3"/><circle cx="722.4" cy="570.6" r="5.3"/><circle cx="725.7" cy="572.9" r="5.3"/><circle cx="729.0" cy="575.1" r="5.3"/><circle cx="732.3" cy="577.2" r="5.3"/><circle cx="735.6" cy="579.2" r="5.3"/><circle cx="739.0" cy="581.0" r="5.3"/><circle cx="742.3" cy="582.8" r="5.3"/><circle cx="745.6" cy="584.6" r="5.3"/><circle cx="748.9" cy="586.4" r="5.3"/><circle cx="752.2" cy="588.3" r="5.3"/><circle cx="755.6" cy="590.2" r="5.3"/><circle cx="758.9" cy="592.2" r="5.3"/><circle cx="762.2" cy="594.2" r="5.3"/><circle cx="765.5" cy="596.3" r="5.3"/><circle cx="768.8" cy="598.5" r="5.3"/><circle cx="772.2" cy="600.7" r="5.3"/><circle cx="775.5" cy="602.9" r="5.3"/><circle cx="778.8" cy="605.2" r="5.3"/><circle cx="782.1" cy="607.5" r="5.3"/><circle cx="785.4" cy="609.9" r="5.3"/><circle cx="788.8" cy="612.4" r="5.3"/><circle cx="792.1" cy="614.9" r="5.3"/><circle cx="795.4" cy="617.5" r="5.3"/><circle cx="798.7" cy="620.2" r="5.3"/><circle cx="802.0" cy="622.9" r="5.3"/><circle cx="805.4" cy="625.6" r="5.3"/><circle cx="808.7" cy="628.4" r="5.3"/><circle cx="812.0" cy="631.1" r="5.3"/><circle cx="815.3" cy="633.8" r="5.3"/><circle cx="818.6" cy="636.6" r="5.3"/><circle cx="822.0" cy="639.3" r="5.3"/><circle cx="825.3" cy="642.0" r="5.3"/><circle cx="828.6" cy="644.7" r="5.3"/><circle cx="831.9" cy="647.4" r="5.3"/><circle cx="835.2" cy="650.1" r="5.3"/><circle cx="838.6" cy="652.7" r="5.3"/><circle cx="841.9" cy="655.0" r="5.3"/><circle cx="845.2" cy="656.8" r="5.3"/></g>
<g fill="none" stroke="#6CC46C" stroke-width="1.4"><circle cx="483.3" cy="456.6" r="4.8"/><circle cx="486.6" cy="456.1" r="4.8"/><circle cx="490.0" cy="455.6" r="4.8"/><circle cx="493.3" cy="455.0" r="4.8"/><circle cx="496.6" cy="454.5" r="4.8"/><circle cx="499.9" cy="454.0" r="4.8"/><circle cx="503.2" cy="453.6" r="4.8"/><circle cx="506.6" cy="453.2" r="4.8"/><circle cx="509.9" cy="452.9" r="4.8"/><circle cx="513.2" cy="452.7" r="4.8"/><circle cx="516.5" cy="452.6" r="4.8"/><circle cx="519.8" cy="452.5" r="4.8"/><circle cx="523.2" cy="452.6" r="4.8"/><circle cx="526.5" cy="452.8" r="4.8"/><circle cx="529.8" cy="453.0" r="4.8"/><circle cx="533.1" cy="453.4" r="4.8"/><circle cx="536.4" cy="453.8" r="4.8"/><circle cx="539.8" cy="454.2" r="4.8"/><circle cx="543.1" cy="454.7" r="4.8"/><circle cx="546.4" cy="455.2" r="4.8"/><circle cx="549.7" cy="455.8" r="4.8"/><circle cx="553.0" cy="456.4" r="4.8"/><circle cx="556.4" cy="457.1" r="4.8"/><circle cx="559.7" cy="457.8" r="4.8"/><circle cx="563.0" cy="458.7" r="4.8"/><circle cx="566.3" cy="459.5" r="4.8"/><circle cx="569.6" cy="460.5" r="4.8"/><circle cx="573.0" cy="461.5" r="4.8"/><circle cx="576.3" cy="462.6" r="4.8"/><circle cx="579.6" cy="463.8" r="4.8"/><circle cx="582.9" cy="465.1" r="4.8"/><circle cx="586.2" cy="466.6" r="4.8"/><circle cx="589.6" cy="468.1" r="4.8"/><circle cx="592.9" cy="469.7" r="4.8"/><circle cx="596.2" cy="471.3" r="4.8"/><circle cx="599.5" cy="472.9" r="4.8"/><circle cx="602.8" cy="474.5" r="4.8"/><circle cx="606.2" cy="476.0" r="4.8"/><circle cx="609.5" cy="477.6" r="4.8"/><circle cx="612.8" cy="479.1" r="4.8"/><circle cx="616.1" cy="480.8" r="4.8"/><circle cx="619.4" cy="482.6" r="4.8"/><circle cx="622.8" cy="484.5" r="4.8"/><circle cx="626.1" cy="486.6" r="4.8"/><circle cx="629.4" cy="488.8" r="4.8"/><circle cx="632.7" cy="490.9" r="4.8"/><circle cx="636.0" cy="493.1" r="4.8"/><circle cx="639.4" cy="495.3" r="4.8"/><circle cx="642.7" cy="497.5" r="4.8"/><circle cx="646.0" cy="499.8" r="4.8"/><circle cx="649.3" cy="502.3" r="4.8"/><circle cx="652.6" cy="505.0" r="4.8"/><circle cx="656.0" cy="507.8" r="4.8"/><circle cx="659.3" cy="510.8" r="4.8"/><circle cx="662.6" cy="513.8" r="4.8"/><circle cx="665.9" cy="516.9" r="4.8"/><circle cx="669.2" cy="519.9" r="4.8"/><circle cx="672.6" cy="523.0" r="4.8"/><circle cx="675.9" cy="526.0" r="4.8"/><circle cx="679.2" cy="528.9" r="4.8"/><circle cx="682.5" cy="531.8" r="4.8"/><circle cx="685.8" cy="534.7" r="4.8"/><circle cx="689.2" cy="537.5" r="4.8"/><circle cx="692.5" cy="540.3" r="4.8"/><circle cx="695.8" cy="543.1" r="4.8"/><circle cx="699.1" cy="545.9" r="4.8"/><circle cx="702.4" cy="548.7" r="4.8"/><circle cx="705.8" cy="551.4" r="4.8"/><circle cx="709.1" cy="554.1" r="4.8"/><circle cx="712.4" cy="556.7" r="4.8"/><circle cx="715.7" cy="559.3" r="4.8"/><circle cx="719.0" cy="561.9" r="4.8"/><circle cx="722.4" cy="564.5" r="4.8"/><circle cx="725.7" cy="567.0" r="4.8"/><circle cx="729.0" cy="569.5" r="4.8"/><circle cx="732.3" cy="572.0" r="4.8"/><circle cx="735.6" cy="574.4" r="4.8"/><circle cx="739.0" cy="576.7" r="4.8"/><circle cx="742.3" cy="579.0" r="4.8"/><circle cx="745.6" cy="581.3" r="4.8"/><circle cx="748.9" cy="583.7" r="4.8"/><circle cx="752.2" cy="586.0" r="4.8"/><circle cx="755.6" cy="588.5" r="4.8"/><circle cx="758.9" cy="591.0" r="4.8"/><circle cx="762.2" cy="593.5" r="4.8"/><circle cx="765.5" cy="596.0" r="4.8"/><circle cx="768.8" cy="598.4" r="4.8"/><circle cx="772.2" cy="600.7" r="4.8"/><circle cx="775.5" cy="602.9" r="4.8"/><circle cx="778.8" cy="605.0" r="4.8"/><circle cx="782.1" cy="607.0" r="4.8"/><circle cx="785.4" cy="608.9" r="4.8"/><circle cx="788.8" cy="610.5" r="4.8"/><circle cx="792.1" cy="611.7" r="4.8"/></g>
<g fill="none" stroke="#6CC46C" stroke-width="1.1"><circle cx="795.4" cy="744.6" r="4.8999999999999995"/></g>
<text transform="translate(487.80,493.20) scale(0.95,1)" class="pl">c</text>
<circle cx="618.2" cy="455.50" r="5.6" fill="#F6A98A"/>
<text x="652.80" y="460.50" text-anchor="start" class="lg2" >20°C Cycling Control</text>
<circle cx="618.2" cy="475.50" r="5.6" fill="#2474BA"/>
<text x="652.80" y="480.50" text-anchor="start" class="lg2" >C/5 Hot Form + Degas</text>
<circle cx="618.2" cy="495.50" r="5.6" fill="#A6CCE6"/>
<text x="652.80" y="500.50" text-anchor="start" class="lg2" >2X C/10 Hot Form + Degas</text>
<circle cx="618.2" cy="515.50" r="5.6" fill="#6CC46C"/>
<text x="652.80" y="520.50" text-anchor="start" class="lg2" >2X C/10 Hot Form + Gas</text>
<text x="672.40" y="553.00" text-anchor="start" class="lg3" >Pressure = 75 kPa</text>
<text x="660" y="845" text-anchor="middle" class="ax">Cycle No.</text>
<text transform="translate(442.70,623.60) rotate(-90)" text-anchor="middle" class="ay">Normalized Discharge Capacity</text>
<path d="M52.50 1232.30V1225.80M52.50 868.30V874.80M131.76 1232.30V1225.80M131.76 868.30V874.80M211.02 1232.30V1225.80M211.02 868.30V874.80M290.28 1232.30V1225.80M290.28 868.30V874.80M369.54 1232.30V1225.80M369.54 868.30V874.80M448.80 1232.30V1225.80M448.80 868.30V874.80M528.06 1232.30V1225.80M528.06 868.30V874.80M607.32 1232.30V1225.80M607.32 868.30V874.80M686.58 1232.30V1225.80M686.58 868.30V874.80M765.84 1232.30V1225.80M765.84 868.30V874.80M845.10 1232.30V1225.80M845.10 868.30V874.80M92.13 1232.30V1228.30M92.13 868.30V872.30M171.39 1232.30V1228.30M171.39 868.30V872.30M250.65 1232.30V1228.30M250.65 868.30V872.30M329.91 1232.30V1228.30M329.91 868.30V872.30M409.17 1232.30V1228.30M409.17 868.30V872.30M488.43 1232.30V1228.30M488.43 868.30V872.30M567.69 1232.30V1228.30M567.69 868.30V872.30M646.95 1232.30V1228.30M646.95 868.30V872.30M726.21 1232.30V1228.30M726.21 868.30V872.30M805.47 1232.30V1228.30M805.47 868.30V872.30M52.20 1232.50H59.70M845.00 1232.50H837.50M52.20 1194.10H59.70M845.00 1194.10H837.50M52.20 1155.70H59.70M845.00 1155.70H837.50M52.20 1117.30H59.70M845.00 1117.30H837.50M52.20 1078.90H59.70M845.00 1078.90H837.50M52.20 1040.50H59.70M845.00 1040.50H837.50M52.20 1002.10H59.70M845.00 1002.10H837.50M52.20 963.70H59.70M845.00 963.70H837.50M52.20 925.30H59.70M845.00 925.30H837.50M52.20 886.90H59.70M845.00 886.90H837.50M52.20 1251.70H56.70M845.00 1251.70H840.50M52.20 1213.30H56.70M845.00 1213.30H840.50M52.20 1174.90H56.70M845.00 1174.90H840.50M52.20 1136.50H56.70M845.00 1136.50H840.50M52.20 1098.10H56.70M845.00 1098.10H840.50M52.20 1059.70H56.70M845.00 1059.70H840.50M52.20 1021.30H56.70M845.00 1021.30H840.50M52.20 982.90H56.70M845.00 982.90H840.50M52.20 944.50H56.70M845.00 944.50H840.50M52.20 906.10H56.70M845.00 906.10H840.50" stroke="#000" stroke-width="2.6" fill="none"/>
<rect x="52.20" y="868.30" width="792.80" height="364.00" fill="none" stroke="#000" stroke-width="2.8"/>
<text x="52.50" y="1253.80" text-anchor="middle" class="tb">0</text>
<text x="131.76" y="1253.80" text-anchor="middle" class="tb">20</text>
<text x="211.02" y="1253.80" text-anchor="middle" class="tb">40</text>
<text x="290.28" y="1253.80" text-anchor="middle" class="tb">60</text>
<text x="369.54" y="1253.80" text-anchor="middle" class="tb">80</text>
<text x="448.80" y="1253.80" text-anchor="middle" class="tb">100</text>
<text x="528.06" y="1253.80" text-anchor="middle" class="tb">120</text>
<text x="607.32" y="1253.80" text-anchor="middle" class="tb">140</text>
<text x="686.58" y="1253.80" text-anchor="middle" class="tb">160</text>
<text x="765.84" y="1253.80" text-anchor="middle" class="tb">180</text>
<text x="845.10" y="1253.80" text-anchor="middle" class="tb">200</text>
<text x="46.50" y="1238.70" text-anchor="end" class="tb">0.1</text>
<text x="46.50" y="1200.30" text-anchor="end" class="tb">0.2</text>
<text x="46.50" y="1161.90" text-anchor="end" class="tb">0.3</text>
<text x="46.50" y="1123.50" text-anchor="end" class="tb">0.4</text>
<text x="46.50" y="1085.10" text-anchor="end" class="tb">0.5</text>
<text x="46.50" y="1046.70" text-anchor="end" class="tb">0.6</text>
<text x="46.50" y="1008.30" text-anchor="end" class="tb">0.7</text>
<text x="46.50" y="969.90" text-anchor="end" class="tb">0.8</text>
<text x="46.50" y="931.50" text-anchor="end" class="tb">0.9</text>
<text x="46.50" y="893.10" text-anchor="end" class="tb">1</text>
<g fill="none" stroke="#B8B8B8" stroke-width="1.6"><circle cx="56.5" cy="889.1" r="4.4"/><circle cx="60.4" cy="888.8" r="4.4"/><circle cx="64.4" cy="888.4" r="4.4"/><circle cx="68.4" cy="888.1" r="4.4"/><circle cx="72.3" cy="887.8" r="4.4"/><circle cx="76.3" cy="887.5" r="4.4"/><circle cx="80.2" cy="887.3" r="4.4"/><circle cx="84.2" cy="887.2" r="4.4"/><circle cx="88.2" cy="887.1" r="4.4"/><circle cx="92.1" cy="887.1" r="4.4"/><circle cx="96.1" cy="887.2" r="4.4"/><circle cx="100.1" cy="887.3" r="4.4"/><circle cx="104.0" cy="887.5" r="4.4"/><circle cx="108.0" cy="887.8" r="4.4"/><circle cx="111.9" cy="888.1" r="4.4"/><circle cx="115.9" cy="888.5" r="4.4"/><circle cx="119.9" cy="888.9" r="4.4"/><circle cx="123.8" cy="889.4" r="4.4"/><circle cx="127.8" cy="889.9" r="4.4"/><circle cx="131.8" cy="890.4" r="4.4"/><circle cx="135.7" cy="891.0" r="4.4"/><circle cx="139.7" cy="891.5" r="4.4"/><circle cx="143.6" cy="892.1" r="4.4"/><circle cx="147.6" cy="892.6" r="4.4"/><circle cx="151.6" cy="893.2" r="4.4"/><circle cx="155.5" cy="893.8" r="4.4"/><circle cx="159.5" cy="894.4" r="4.4"/><circle cx="163.5" cy="895.0" r="4.4"/><circle cx="167.4" cy="895.6" r="4.4"/><circle cx="171.4" cy="896.2" r="4.4"/><circle cx="175.4" cy="896.8" r="4.4"/><circle cx="179.3" cy="897.5" r="4.4"/><circle cx="183.3" cy="898.2" r="4.4"/><circle cx="187.2" cy="898.9" r="4.4"/><circle cx="191.2" cy="899.6" r="4.4"/><circle cx="195.2" cy="900.3" r="4.4"/><circle cx="199.1" cy="901.1" r="4.4"/><circle cx="203.1" cy="901.9" r="4.4"/><circle cx="207.1" cy="902.7" r="4.4"/><circle cx="211.0" cy="903.6" r="4.4"/><circle cx="215.0" cy="904.4" r="4.4"/><circle cx="218.9" cy="905.3" r="4.4"/><circle cx="222.9" cy="906.2" r="4.4"/><circle cx="226.9" cy="907.1" r="4.4"/><circle cx="230.8" cy="908.1" r="4.4"/><circle cx="234.8" cy="909.0" r="4.4"/><circle cx="238.8" cy="910.0" r="4.4"/><circle cx="242.7" cy="911.0" r="4.4"/><circle cx="246.7" cy="912.0" r="4.4"/><circle cx="250.7" cy="913.0" r="4.4"/><circle cx="254.6" cy="914.0" r="4.4"/><circle cx="258.6" cy="915.0" r="4.4"/><circle cx="262.5" cy="916.0" r="4.4"/><circle cx="266.5" cy="917.1" r="4.4"/><circle cx="270.5" cy="918.1" r="4.4"/><circle cx="274.4" cy="919.2" r="4.4"/><circle cx="278.4" cy="920.3" r="4.4"/><circle cx="282.4" cy="921.4" r="4.4"/><circle cx="286.3" cy="922.5" r="4.4"/><circle cx="290.3" cy="923.6" r="4.4"/><circle cx="294.2" cy="924.8" r="4.4"/><circle cx="298.2" cy="925.9" r="4.4"/><circle cx="302.2" cy="927.1" r="4.4"/><circle cx="306.1" cy="928.3" r="4.4"/><circle cx="310.1" cy="929.5" r="4.4"/><circle cx="314.1" cy="930.7" r="4.4"/><circle cx="318.0" cy="932.0" r="4.4"/><circle cx="322.0" cy="933.2" r="4.4"/><circle cx="325.9" cy="934.5" r="4.4"/><circle cx="329.9" cy="935.8" r="4.4"/><circle cx="333.9" cy="937.1" r="4.4"/><circle cx="337.8" cy="938.4" r="4.4"/><circle cx="341.8" cy="939.8" r="4.4"/><circle cx="345.8" cy="941.2" r="4.4"/><circle cx="349.7" cy="942.6" r="4.4"/><circle cx="353.7" cy="944.1" r="4.4"/><circle cx="357.7" cy="945.5" r="4.4"/><circle cx="361.6" cy="947.0" r="4.4"/><circle cx="365.6" cy="948.5" r="4.4"/><circle cx="369.5" cy="950.0" r="4.4"/><circle cx="373.5" cy="951.6" r="4.4"/><circle cx="377.5" cy="953.2" r="4.4"/><circle cx="381.4" cy="954.8" r="4.4"/><circle cx="385.4" cy="956.4" r="4.4"/><circle cx="389.4" cy="958.0" r="4.4"/><circle cx="393.3" cy="959.6" r="4.4"/><circle cx="397.3" cy="961.3" r="4.4"/><circle cx="401.2" cy="963.0" r="4.4"/><circle cx="405.2" cy="964.7" r="4.4"/><circle cx="409.2" cy="966.4" r="4.4"/><circle cx="413.1" cy="968.1" r="4.4"/><circle cx="417.1" cy="969.9" r="4.4"/><circle cx="421.1" cy="971.6" r="4.4"/><circle cx="425.0" cy="973.4" r="4.4"/><circle cx="429.0" cy="975.2" r="4.4"/><circle cx="432.9" cy="977.0" r="4.4"/><circle cx="436.9" cy="978.8" r="4.4"/><circle cx="440.9" cy="980.5" r="4.4"/><circle cx="444.8" cy="982.3" r="4.4"/><circle cx="448.8" cy="984.1" r="4.4"/><circle cx="452.8" cy="985.9" r="4.4"/><circle cx="456.7" cy="987.7" r="4.4"/><circle cx="460.7" cy="989.5" r="4.4"/><circle cx="464.7" cy="991.2" r="4.4"/><circle cx="468.6" cy="993.0" r="4.4"/><circle cx="472.6" cy="994.7" r="4.4"/><circle cx="476.5" cy="996.4" r="4.4"/><circle cx="480.5" cy="998.1" r="4.4"/><circle cx="484.5" cy="999.8" r="4.4"/><circle cx="488.4" cy="1001.5" r="4.4"/><circle cx="492.4" cy="1003.2" r="4.4"/><circle cx="496.4" cy="1004.9" r="4.4"/><circle cx="500.3" cy="1006.5" r="4.4"/><circle cx="504.3" cy="1008.2" r="4.4"/><circle cx="508.2" cy="1009.8" r="4.4"/><circle cx="512.2" cy="1011.5" r="4.4"/><circle cx="516.2" cy="1013.1" r="4.4"/><circle cx="520.1" cy="1014.7" r="4.4"/><circle cx="524.1" cy="1016.3" r="4.4"/><circle cx="528.1" cy="1017.9" r="4.4"/><circle cx="532.0" cy="1019.5" r="4.4"/><circle cx="536.0" cy="1021.1" r="4.4"/><circle cx="539.9" cy="1022.7" r="4.4"/><circle cx="543.9" cy="1024.3" r="4.4"/><circle cx="547.9" cy="1025.9" r="4.4"/><circle cx="551.8" cy="1027.5" r="4.4"/><circle cx="555.8" cy="1029.0" r="4.4"/><circle cx="559.8" cy="1030.6" r="4.4"/><circle cx="563.7" cy="1032.2" r="4.4"/><circle cx="567.7" cy="1033.7" r="4.4"/><circle cx="571.7" cy="1035.3" r="4.4"/><circle cx="575.6" cy="1036.8" r="4.4"/><circle cx="579.6" cy="1038.3" r="4.4"/><circle cx="583.5" cy="1039.8" r="4.4"/><circle cx="587.5" cy="1041.3" r="4.4"/><circle cx="591.5" cy="1042.8" r="4.4"/><circle cx="595.4" cy="1044.3" r="4.4"/><circle cx="599.4" cy="1045.7" r="4.4"/><circle cx="603.4" cy="1047.2" r="4.4"/><circle cx="607.3" cy="1048.6" r="4.4"/><circle cx="611.3" cy="1050.0" r="4.4"/><circle cx="615.2" cy="1051.4" r="4.4"/><circle cx="619.2" cy="1052.8" r="4.4"/><circle cx="623.2" cy="1054.2" r="4.4"/><circle cx="627.1" cy="1055.6" r="4.4"/><circle cx="631.1" cy="1057.0" r="4.4"/><circle cx="635.1" cy="1058.3" r="4.4"/><circle cx="639.0" cy="1059.7" r="4.4"/><circle cx="643.0" cy="1061.1" r="4.4"/><circle cx="647.0" cy="1062.5" r="4.4"/><circle cx="650.9" cy="1063.8" r="4.4"/><circle cx="654.9" cy="1065.2" r="4.4"/><circle cx="658.8" cy="1066.6" r="4.4"/><circle cx="662.8" cy="1068.0" r="4.4"/><circle cx="666.8" cy="1069.3" r="4.4"/><circle cx="670.7" cy="1070.7" r="4.4"/><circle cx="674.7" cy="1072.1" r="4.4"/><circle cx="678.7" cy="1073.4" r="4.4"/><circle cx="682.6" cy="1074.8" r="4.4"/><circle cx="686.6" cy="1076.2" r="4.4"/><circle cx="690.5" cy="1077.5" r="4.4"/><circle cx="694.5" cy="1078.9" r="4.4"/><circle cx="698.5" cy="1080.3" r="4.4"/><circle cx="702.4" cy="1081.6" r="4.4"/><circle cx="706.4" cy="1083.0" r="4.4"/><circle cx="710.4" cy="1084.4" r="4.4"/><circle cx="714.3" cy="1085.7" r="4.4"/><circle cx="718.3" cy="1087.1" r="4.4"/><circle cx="722.2" cy="1088.4" r="4.4"/><circle cx="726.2" cy="1089.8" r="4.4"/><circle cx="730.2" cy="1091.1" r="4.4"/><circle cx="734.1" cy="1092.5" r="4.4"/><circle cx="738.1" cy="1093.8" r="4.4"/><circle cx="742.1" cy="1095.2" r="4.4"/><circle cx="746.0" cy="1096.5" r="4.4"/><circle cx="750.0" cy="1097.9" r="4.4"/><circle cx="754.0" cy="1099.2" r="4.4"/><circle cx="757.9" cy="1100.5" r="4.4"/><circle cx="761.9" cy="1101.9" r="4.4"/><circle cx="765.8" cy="1103.2" r="4.4"/><circle cx="769.8" cy="1104.6" r="4.4"/><circle cx="773.8" cy="1105.9" r="4.4"/><circle cx="777.7" cy="1107.3" r="4.4"/><circle cx="781.7" cy="1108.6" r="4.4"/><circle cx="785.7" cy="1110.0" r="4.4"/><circle cx="789.6" cy="1111.4" r="4.4"/><circle cx="793.6" cy="1112.8" r="4.4"/><circle cx="797.5" cy="1114.2" r="4.4"/><circle cx="801.5" cy="1115.5" r="4.4"/><circle cx="805.5" cy="1116.9" r="4.4"/><circle cx="809.4" cy="1118.3" r="4.4"/><circle cx="813.4" cy="1119.7" r="4.4"/><circle cx="817.4" cy="1121.0" r="4.4"/><circle cx="821.3" cy="1122.4" r="4.4"/><circle cx="825.3" cy="1123.6" r="4.4"/><circle cx="829.2" cy="1124.8" r="4.4"/><circle cx="833.2" cy="1125.9" r="4.4"/><circle cx="837.2" cy="1127.0" r="4.4"/><circle cx="841.1" cy="1127.9" r="4.4"/><circle cx="845.1" cy="1128.7" r="4.4"/></g>
<g fill="#B4B4B4" stroke="#B4B4B4" stroke-width="1.0"><circle cx="56.5" cy="886.8" r="5.0"/><circle cx="60.4" cy="886.3" r="5.0"/><circle cx="64.4" cy="885.8" r="5.0"/><circle cx="68.4" cy="885.2" r="5.0"/><circle cx="72.3" cy="884.7" r="5.0"/><circle cx="76.3" cy="884.2" r="5.0"/><circle cx="80.2" cy="883.8" r="5.0"/><circle cx="84.2" cy="883.4" r="5.0"/><circle cx="88.2" cy="883.0" r="5.0"/><circle cx="92.1" cy="882.8" r="5.0"/><circle cx="96.1" cy="882.6" r="5.0"/><circle cx="100.1" cy="882.5" r="5.0"/><circle cx="104.0" cy="882.4" r="5.0"/><circle cx="108.0" cy="882.4" r="5.0"/><circle cx="111.9" cy="882.4" r="5.0"/><circle cx="115.9" cy="882.5" r="5.0"/><circle cx="119.9" cy="882.7" r="5.0"/><circle cx="123.8" cy="882.8" r="5.0"/><circle cx="127.8" cy="883.1" r="5.0"/><circle cx="131.8" cy="883.3" r="5.0"/><circle cx="135.7" cy="883.6" r="5.0"/><circle cx="139.7" cy="883.9" r="5.0"/><circle cx="143.6" cy="884.2" r="5.0"/><circle cx="147.6" cy="884.6" r="5.0"/><circle cx="151.6" cy="885.0" r="5.0"/><circle cx="155.5" cy="885.5" r="5.0"/><circle cx="159.5" cy="885.9" r="5.0"/><circle cx="163.5" cy="886.4" r="5.0"/><circle cx="167.4" cy="886.9" r="5.0"/><circle cx="171.4" cy="887.4" r="5.0"/><circle cx="175.4" cy="888.0" r="5.0"/><circle cx="179.3" cy="888.6" r="5.0"/><circle cx="183.3" cy="889.2" r="5.0"/><circle cx="187.2" cy="889.8" r="5.0"/><circle cx="191.2" cy="890.5" r="5.0"/><circle cx="195.2" cy="891.2" r="5.0"/><circle cx="199.1" cy="892.0" r="5.0"/><circle cx="203.1" cy="892.8" r="5.0"/><circle cx="207.1" cy="893.6" r="5.0"/><circle cx="211.0" cy="894.4" r="5.0"/><circle cx="215.0" cy="895.3" r="5.0"/><circle cx="218.9" cy="896.3" r="5.0"/><circle cx="222.9" cy="897.2" r="5.0"/><circle cx="226.9" cy="898.2" r="5.0"/><circle cx="230.8" cy="899.3" r="5.0"/><circle cx="234.8" cy="900.3" r="5.0"/><circle cx="238.8" cy="901.3" r="5.0"/><circle cx="242.7" cy="902.4" r="5.0"/><circle cx="246.7" cy="903.5" r="5.0"/><circle cx="250.7" cy="904.5" r="5.0"/><circle cx="254.6" cy="905.6" r="5.0"/><circle cx="258.6" cy="906.6" r="5.0"/><circle cx="262.5" cy="907.6" r="5.0"/><circle cx="266.5" cy="908.6" r="5.0"/><circle cx="270.5" cy="909.6" r="5.0"/><circle cx="274.4" cy="910.6" r="5.0"/><circle cx="278.4" cy="911.6" r="5.0"/><circle cx="282.4" cy="912.6" r="5.0"/><circle cx="286.3" cy="913.6" r="5.0"/><circle cx="290.3" cy="914.5" r="5.0"/><circle cx="294.2" cy="915.5" r="5.0"/><circle cx="298.2" cy="916.5" r="5.0"/><circle cx="302.2" cy="917.4" r="5.0"/><circle cx="306.1" cy="918.4" r="5.0"/><circle cx="310.1" cy="919.4" r="5.0"/><circle cx="314.1" cy="920.4" r="5.0"/><circle cx="318.0" cy="921.4" r="5.0"/><circle cx="322.0" cy="922.4" r="5.0"/><circle cx="325.9" cy="923.4" r="5.0"/><circle cx="329.9" cy="924.4" r="5.0"/><circle cx="333.9" cy="925.4" r="5.0"/><circle cx="337.8" cy="926.5" r="5.0"/><circle cx="341.8" cy="927.6" r="5.0"/><circle cx="345.8" cy="928.6" r="5.0"/><circle cx="349.7" cy="929.8" r="5.0"/><circle cx="353.7" cy="930.9" r="5.0"/><circle cx="357.7" cy="932.0" r="5.0"/><circle cx="361.6" cy="933.2" r="5.0"/><circle cx="365.6" cy="934.4" r="5.0"/><circle cx="369.5" cy="935.6" r="5.0"/><circle cx="373.5" cy="936.8" r="5.0"/><circle cx="377.5" cy="938.0" r="5.0"/><circle cx="381.4" cy="939.3" r="5.0"/><circle cx="385.4" cy="940.6" r="5.0"/><circle cx="389.4" cy="941.8" r="5.0"/><circle cx="393.3" cy="943.1" r="5.0"/><circle cx="397.3" cy="944.4" r="5.0"/><circle cx="401.2" cy="945.8" r="5.0"/><circle cx="405.2" cy="947.1" r="5.0"/><circle cx="409.2" cy="948.5" r="5.0"/><circle cx="413.1" cy="949.9" r="5.0"/><circle cx="417.1" cy="951.3" r="5.0"/><circle cx="421.1" cy="952.7" r="5.0"/><circle cx="425.0" cy="954.1" r="5.0"/><circle cx="429.0" cy="955.6" r="5.0"/><circle cx="432.9" cy="957.1" r="5.0"/><circle cx="436.9" cy="958.6" r="5.0"/><circle cx="440.9" cy="960.2" r="5.0"/><circle cx="444.8" cy="961.7" r="5.0"/><circle cx="448.8" cy="963.3" r="5.0"/><circle cx="452.8" cy="964.8" r="5.0"/><circle cx="456.7" cy="966.4" r="5.0"/><circle cx="460.7" cy="968.0" r="5.0"/><circle cx="464.7" cy="969.6" r="5.0"/><circle cx="468.6" cy="971.1" r="5.0"/><circle cx="472.6" cy="972.7" r="5.0"/><circle cx="476.5" cy="974.2" r="5.0"/><circle cx="480.5" cy="975.8" r="5.0"/><circle cx="484.5" cy="977.3" r="5.0"/><circle cx="488.4" cy="978.8" r="5.0"/><circle cx="492.4" cy="980.2" r="5.0"/><circle cx="496.4" cy="981.7" r="5.0"/><circle cx="500.3" cy="983.1" r="5.0"/><circle cx="504.3" cy="984.5" r="5.0"/><circle cx="508.2" cy="985.9" r="5.0"/><circle cx="512.2" cy="987.3" r="5.0"/><circle cx="516.2" cy="988.6" r="5.0"/><circle cx="520.1" cy="990.0" r="5.0"/><circle cx="524.1" cy="991.3" r="5.0"/><circle cx="528.1" cy="992.5" r="5.0"/><circle cx="532.0" cy="993.8" r="5.0"/><circle cx="536.0" cy="995.0" r="5.0"/><circle cx="539.9" cy="996.2" r="5.0"/><circle cx="543.9" cy="997.4" r="5.0"/><circle cx="547.9" cy="998.6" r="5.0"/><circle cx="551.8" cy="999.7" r="5.0"/><circle cx="555.8" cy="1000.9" r="5.0"/><circle cx="559.8" cy="1002.0" r="5.0"/><circle cx="563.7" cy="1003.1" r="5.0"/><circle cx="567.7" cy="1004.2" r="5.0"/><circle cx="571.7" cy="1005.3" r="5.0"/><circle cx="575.6" cy="1006.3" r="5.0"/><circle cx="579.6" cy="1007.4" r="5.0"/><circle cx="583.5" cy="1008.5" r="5.0"/><circle cx="587.5" cy="1009.5" r="5.0"/><circle cx="591.5" cy="1010.6" r="5.0"/><circle cx="595.4" cy="1011.7" r="5.0"/><circle cx="599.4" cy="1012.8" r="5.0"/><circle cx="603.4" cy="1013.8" r="5.0"/><circle cx="607.3" cy="1014.9" r="5.0"/><circle cx="611.3" cy="1016.0" r="5.0"/><circle cx="615.2" cy="1017.1" r="5.0"/><circle cx="619.2" cy="1018.2" r="5.0"/><circle cx="623.2" cy="1019.3" r="5.0"/><circle cx="627.1" cy="1020.5" r="5.0"/><circle cx="631.1" cy="1021.6" r="5.0"/><circle cx="635.1" cy="1022.8" r="5.0"/><circle cx="639.0" cy="1024.0" r="5.0"/><circle cx="643.0" cy="1025.2" r="5.0"/><circle cx="647.0" cy="1026.4" r="5.0"/><circle cx="650.9" cy="1027.7" r="5.0"/><circle cx="654.9" cy="1029.0" r="5.0"/><circle cx="658.8" cy="1030.4" r="5.0"/><circle cx="662.8" cy="1031.7" r="5.0"/><circle cx="666.8" cy="1033.1" r="5.0"/><circle cx="670.7" cy="1034.5" r="5.0"/><circle cx="674.7" cy="1036.0" r="5.0"/><circle cx="678.7" cy="1037.5" r="5.0"/><circle cx="682.6" cy="1039.0" r="5.0"/><circle cx="686.6" cy="1040.5" r="5.0"/><circle cx="690.5" cy="1042.1" r="5.0"/><circle cx="694.5" cy="1043.6" r="5.0"/><circle cx="698.5" cy="1045.2" r="5.0"/><circle cx="702.4" cy="1046.9" r="5.0"/><circle cx="706.4" cy="1048.6" r="5.0"/><circle cx="710.4" cy="1050.2" r="5.0"/><circle cx="714.3" cy="1052.0" r="5.0"/><circle cx="718.3" cy="1053.7" r="5.0"/><circle cx="722.2" cy="1055.5" r="5.0"/><circle cx="726.2" cy="1057.3" r="5.0"/><circle cx="730.2" cy="1059.2" r="5.0"/><circle cx="734.1" cy="1061.0" r="5.0"/><circle cx="738.1" cy="1063.0" r="5.0"/><circle cx="742.1" cy="1064.9" r="5.0"/><circle cx="746.0" cy="1066.9" r="5.0"/><circle cx="750.0" cy="1069.0" r="5.0"/><circle cx="754.0" cy="1071.0" r="5.0"/><circle cx="757.9" cy="1073.2" r="5.0"/><circle cx="761.9" cy="1075.3" r="5.0"/><circle cx="765.8" cy="1077.5" r="5.0"/><circle cx="769.8" cy="1079.8" r="5.0"/><circle cx="773.8" cy="1082.0" r="5.0"/><circle cx="777.7" cy="1084.3" r="5.0"/><circle cx="781.7" cy="1086.7" r="5.0"/><circle cx="785.7" cy="1089.1" r="5.0"/><circle cx="789.6" cy="1091.5" r="5.0"/><circle cx="793.6" cy="1093.9" r="5.0"/><circle cx="797.5" cy="1096.3" r="5.0"/><circle cx="801.5" cy="1098.8" r="5.0"/><circle cx="805.5" cy="1101.3" r="5.0"/><circle cx="809.4" cy="1103.7" r="5.0"/><circle cx="813.4" cy="1106.2" r="5.0"/><circle cx="817.4" cy="1108.6" r="5.0"/><circle cx="821.3" cy="1111.0" r="5.0"/><circle cx="825.3" cy="1113.3" r="5.0"/><circle cx="829.2" cy="1115.5" r="5.0"/><circle cx="833.2" cy="1117.5" r="5.0"/><circle cx="837.2" cy="1119.3" r="5.0"/><circle cx="841.1" cy="1121.0" r="5.0"/><circle cx="845.1" cy="1122.5" r="5.0"/></g>
<g fill="#B4B4B4" stroke="#B4B4B4" stroke-width="1.0"><circle cx="54.9" cy="1136.1" r="5.0"/></g>
<g fill="none" stroke="#B0B0B0" stroke-width="1.2"><circle cx="54.9" cy="1123.8" r="4.5"/></g>
<g fill="#2E64A6" stroke="#255390" stroke-width="1.0"><circle cx="56.5" cy="899.2" r="5.0"/><circle cx="60.4" cy="895.0" r="5.0"/><circle cx="64.4" cy="890.4" r="5.0"/><circle cx="68.4" cy="886.3" r="5.0"/><circle cx="72.3" cy="883.2" r="5.0"/><circle cx="76.3" cy="880.9" r="5.0"/><circle cx="80.2" cy="879.3" r="5.0"/><circle cx="84.2" cy="878.0" r="5.0"/><circle cx="88.2" cy="877.0" r="5.0"/><circle cx="92.1" cy="876.1" r="5.0"/><circle cx="96.1" cy="875.4" r="5.0"/><circle cx="100.1" cy="874.7" r="5.0"/><circle cx="104.0" cy="874.2" r="5.0"/><circle cx="108.0" cy="873.7" r="5.0"/><circle cx="111.9" cy="873.2" r="5.0"/><circle cx="115.9" cy="872.8" r="5.0"/><circle cx="119.9" cy="872.4" r="5.0"/><circle cx="123.8" cy="872.1" r="5.0"/><circle cx="127.8" cy="871.8" r="5.0"/><circle cx="131.8" cy="871.5" r="5.0"/><circle cx="135.7" cy="871.2" r="5.0"/><circle cx="139.7" cy="870.9" r="5.0"/><circle cx="143.6" cy="870.7" r="5.0"/><circle cx="147.6" cy="870.5" r="5.0"/><circle cx="151.6" cy="870.3" r="5.0"/><circle cx="155.5" cy="870.2" r="5.0"/><circle cx="159.5" cy="870.0" r="5.0"/><circle cx="163.5" cy="869.9" r="5.0"/><circle cx="167.4" cy="869.7" r="5.0"/><circle cx="171.4" cy="869.6" r="5.0"/><circle cx="175.4" cy="869.5" r="5.0"/><circle cx="179.3" cy="869.5" r="5.0"/><circle cx="183.3" cy="869.8" r="5.0"/><circle cx="187.2" cy="870.9" r="5.0"/><circle cx="191.2" cy="873.3" r="5.0"/><circle cx="195.2" cy="876.4" r="5.0"/><circle cx="199.1" cy="880.2" r="5.0"/><circle cx="203.1" cy="874.9" r="5.0"/><circle cx="207.1" cy="882.5" r="5.0"/><circle cx="211.0" cy="881.8" r="5.0"/><circle cx="215.0" cy="873.3" r="5.0"/><circle cx="218.9" cy="874.4" r="5.0"/><circle cx="222.9" cy="883.8" r="5.0"/><circle cx="226.9" cy="881.6" r="5.0"/><circle cx="230.8" cy="876.8" r="5.0"/><circle cx="234.8" cy="884.6" r="5.0"/><circle cx="238.8" cy="880.5" r="5.0"/><circle cx="242.7" cy="881.9" r="5.0"/><circle cx="246.7" cy="883.3" r="5.0"/><circle cx="250.7" cy="871.6" r="5.0"/><circle cx="254.6" cy="881.1" r="5.0"/><circle cx="258.6" cy="884.6" r="5.0"/><circle cx="262.5" cy="882.5" r="5.0"/><circle cx="266.5" cy="881.8" r="5.0"/><circle cx="270.5" cy="883.3" r="5.0"/><circle cx="274.4" cy="881.9" r="5.0"/><circle cx="278.4" cy="883.3" r="5.0"/><circle cx="282.4" cy="882.2" r="5.0"/><circle cx="286.3" cy="881.0" r="5.0"/><circle cx="290.3" cy="884.8" r="5.0"/><circle cx="294.2" cy="883.5" r="5.0"/><circle cx="298.2" cy="884.8" r="5.0"/><circle cx="302.2" cy="884.0" r="5.0"/><circle cx="306.1" cy="886.4" r="5.0"/><circle cx="310.1" cy="885.6" r="5.0"/><circle cx="314.1" cy="885.1" r="5.0"/><circle cx="318.0" cy="883.4" r="5.0"/><circle cx="322.0" cy="883.2" r="5.0"/><circle cx="325.9" cy="887.7" r="5.0"/><circle cx="329.9" cy="886.9" r="5.0"/><circle cx="333.9" cy="884.7" r="5.0"/><circle cx="337.8" cy="889.4" r="5.0"/><circle cx="341.8" cy="887.0" r="5.0"/><circle cx="345.8" cy="886.6" r="5.0"/><circle cx="349.7" cy="884.4" r="5.0"/><circle cx="353.7" cy="885.6" r="5.0"/><circle cx="357.7" cy="887.6" r="5.0"/><circle cx="361.6" cy="887.9" r="5.0"/><circle cx="365.6" cy="887.9" r="5.0"/><circle cx="369.5" cy="885.1" r="5.0"/><circle cx="373.5" cy="888.7" r="5.0"/><circle cx="377.5" cy="888.7" r="5.0"/><circle cx="381.4" cy="887.8" r="5.0"/><circle cx="385.4" cy="888.8" r="5.0"/><circle cx="389.4" cy="889.2" r="5.0"/><circle cx="393.3" cy="891.0" r="5.0"/><circle cx="397.3" cy="889.3" r="5.0"/><circle cx="401.2" cy="885.2" r="5.0"/><circle cx="405.2" cy="881.6" r="5.0"/><circle cx="409.2" cy="882.6" r="5.0"/><circle cx="413.1" cy="890.1" r="5.0"/><circle cx="417.1" cy="889.1" r="5.0"/><circle cx="421.1" cy="886.6" r="5.0"/><circle cx="425.0" cy="887.5" r="5.0"/><circle cx="429.0" cy="887.2" r="5.0"/><circle cx="432.9" cy="883.8" r="5.0"/><circle cx="436.9" cy="891.3" r="5.0"/><circle cx="440.9" cy="889.6" r="5.0"/><circle cx="444.8" cy="892.2" r="5.0"/><circle cx="448.8" cy="891.8" r="5.0"/><circle cx="452.8" cy="893.9" r="5.0"/><circle cx="456.7" cy="895.5" r="5.0"/><circle cx="460.7" cy="894.3" r="5.0"/><circle cx="464.7" cy="891.3" r="5.0"/><circle cx="468.6" cy="897.3" r="5.0"/><circle cx="472.6" cy="897.6" r="5.0"/><circle cx="476.5" cy="896.8" r="5.0"/><circle cx="480.5" cy="897.0" r="5.0"/><circle cx="484.5" cy="898.8" r="5.0"/><circle cx="488.4" cy="899.5" r="5.0"/><circle cx="492.4" cy="898.5" r="5.0"/><circle cx="496.4" cy="899.4" r="5.0"/><circle cx="500.3" cy="902.7" r="5.0"/><circle cx="504.3" cy="901.6" r="5.0"/><circle cx="508.2" cy="902.0" r="5.0"/><circle cx="512.2" cy="904.5" r="5.0"/><circle cx="516.2" cy="902.8" r="5.0"/><circle cx="520.1" cy="905.4" r="5.0"/><circle cx="524.1" cy="900.6" r="5.0"/><circle cx="528.1" cy="903.6" r="5.0"/><circle cx="532.0" cy="905.5" r="5.0"/><circle cx="536.0" cy="907.3" r="5.0"/><circle cx="539.9" cy="906.5" r="5.0"/><circle cx="543.9" cy="910.3" r="5.0"/><circle cx="547.9" cy="909.9" r="5.0"/><circle cx="551.8" cy="907.5" r="5.0"/><circle cx="555.8" cy="912.7" r="5.0"/><circle cx="559.8" cy="908.1" r="5.0"/><circle cx="563.7" cy="913.1" r="5.0"/><circle cx="567.7" cy="909.4" r="5.0"/><circle cx="571.7" cy="912.7" r="5.0"/><circle cx="575.6" cy="910.6" r="5.0"/><circle cx="579.6" cy="912.3" r="5.0"/><circle cx="583.5" cy="915.9" r="5.0"/><circle cx="587.5" cy="911.9" r="5.0"/><circle cx="591.5" cy="912.5" r="5.0"/><circle cx="595.4" cy="916.1" r="5.0"/><circle cx="599.4" cy="917.5" r="5.0"/><circle cx="603.4" cy="918.4" r="5.0"/><circle cx="607.3" cy="917.8" r="5.0"/><circle cx="611.3" cy="918.3" r="5.0"/><circle cx="615.2" cy="922.8" r="5.0"/><circle cx="619.2" cy="919.6" r="5.0"/><circle cx="623.2" cy="921.9" r="5.0"/><circle cx="627.1" cy="923.4" r="5.0"/><circle cx="631.1" cy="928.8" r="5.0"/><circle cx="635.1" cy="925.4" r="5.0"/><circle cx="639.0" cy="928.8" r="5.0"/><circle cx="643.0" cy="927.8" r="5.0"/><circle cx="647.0" cy="930.3" r="5.0"/><circle cx="650.9" cy="932.4" r="5.0"/><circle cx="654.9" cy="932.6" r="5.0"/><circle cx="658.8" cy="933.8" r="5.0"/><circle cx="662.8" cy="933.6" r="5.0"/><circle cx="666.8" cy="935.1" r="5.0"/><circle cx="670.7" cy="935.8" r="5.0"/><circle cx="674.7" cy="937.9" r="5.0"/><circle cx="678.7" cy="938.3" r="5.0"/><circle cx="682.6" cy="934.9" r="5.0"/><circle cx="686.6" cy="939.7" r="5.0"/><circle cx="690.5" cy="937.9" r="5.0"/><circle cx="694.5" cy="935.0" r="5.0"/><circle cx="698.5" cy="934.2" r="5.0"/><circle cx="702.4" cy="940.4" r="5.0"/><circle cx="706.4" cy="943.0" r="5.0"/><circle cx="710.4" cy="942.7" r="5.0"/><circle cx="714.3" cy="947.3" r="5.0"/><circle cx="718.3" cy="943.8" r="5.0"/><circle cx="722.2" cy="946.0" r="5.0"/><circle cx="726.2" cy="946.7" r="5.0"/><circle cx="730.2" cy="949.1" r="5.0"/><circle cx="734.1" cy="948.0" r="5.0"/><circle cx="738.1" cy="950.7" r="5.0"/><circle cx="742.1" cy="951.1" r="5.0"/><circle cx="746.0" cy="953.9" r="5.0"/><circle cx="750.0" cy="955.3" r="5.0"/><circle cx="754.0" cy="950.0" r="5.0"/><circle cx="757.9" cy="953.7" r="5.0"/><circle cx="761.9" cy="956.3" r="5.0"/><circle cx="765.8" cy="958.1" r="5.0"/><circle cx="769.8" cy="960.0" r="5.0"/><circle cx="773.8" cy="961.3" r="5.0"/><circle cx="777.7" cy="960.5" r="5.0"/><circle cx="781.7" cy="963.1" r="5.0"/><circle cx="785.7" cy="963.9" r="5.0"/><circle cx="789.6" cy="964.6" r="5.0"/><circle cx="793.6" cy="963.5" r="5.0"/><circle cx="797.5" cy="965.2" r="5.0"/><circle cx="801.5" cy="966.6" r="5.0"/><circle cx="805.5" cy="969.1" r="5.0"/><circle cx="809.4" cy="971.4" r="5.0"/><circle cx="813.4" cy="968.3" r="5.0"/><circle cx="817.4" cy="969.3" r="5.0"/><circle cx="821.3" cy="972.2" r="5.0"/><circle cx="825.3" cy="972.3" r="5.0"/><circle cx="829.2" cy="972.6" r="5.0"/><circle cx="833.2" cy="971.9" r="5.0"/><circle cx="837.2" cy="976.3" r="5.0"/><circle cx="841.1" cy="977.1" r="5.0"/><circle cx="845.1" cy="978.7" r="5.0"/></g>
<text transform="translate(64.20,925.00) scale(1.0,1)" class="pl">d</text>
<circle cx="102" cy="1162.80" r="5.5" fill="#B4B4B4"/>
<text transform="translate(139,1168.00) scale(1.09,1)" class="lg4">1.8M LiDFOB 0.4M LiBF<tspan class="sub4">4</tspan> - Hot Form  (75 kPa)</text>
<circle cx="102" cy="1184.80" r="5.5" fill="#2E64A6"/>
<text transform="translate(139,1190.00) scale(1.09,1)" class="lg4">1.8M LiDFOB 0.4M LiBF<tspan class="sub4">4</tspan> - Hot Form  (1200 kPa)</text>
<text x="445.5" y="1276" text-anchor="middle" class="ax">Cycle No.</text>
<text transform="translate(14.00,1054.20) rotate(-90)" text-anchor="middle" class="ay">Normalized Discharge Capacity</text>
</svg></body></html>
